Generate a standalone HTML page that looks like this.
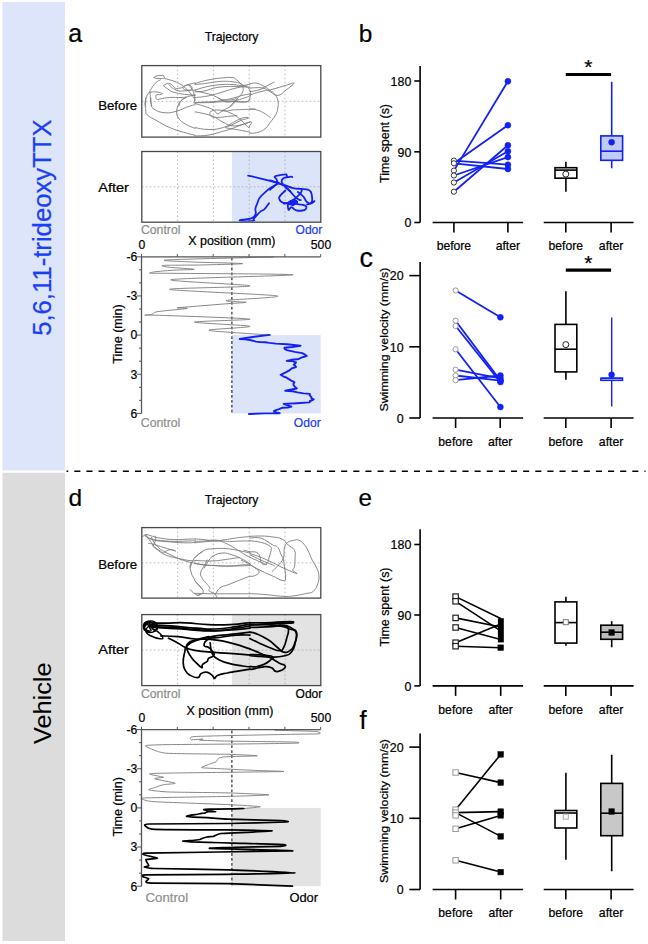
<!DOCTYPE html>
<html><head><meta charset="utf-8"><style>
html,body{margin:0;padding:0;background:#fff;width:648px;height:944px;overflow:hidden}
svg{display:block}
text{stroke-width:0.22px;paint-order:fill}
</style></head><body>
<svg width="648" height="944" viewBox="0 0 648 944" font-family="'Liberation Sans', sans-serif">
<defs><clipPath id="clipA1"><rect x="142.5" y="66.3" width="177.6" height="70.1"/></clipPath><clipPath id="clipA2"><rect x="142.5" y="152.2" width="177.6" height="69.29999999999998"/></clipPath><clipPath id="clipD1"><rect x="142.5" y="528.3000000000001" width="177.6" height="69.1"/></clipPath><clipPath id="clipD2"><rect x="142.5" y="615.3000000000001" width="177.6" height="69.6"/></clipPath></defs>
<rect width="648" height="944" fill="#fff"/>
<rect x="2.5" y="2" width="62.5" height="468.5" fill="#dde5fb" stroke="none" stroke-width="1.5"/>
<rect x="2.5" y="472.8" width="62.5" height="468.2" fill="#dcdcdc" stroke="none" stroke-width="1.5"/>
<text x="50.6" y="227.6" font-size="25.4" fill="#1a40f6" stroke="#1a40f6" text-anchor="middle" textLength="216.5" lengthAdjust="spacingAndGlyphs" transform="rotate(-90 50.6 227.6)">5,6,11-trideoxyTTX</text>
<text x="51.3" y="703.2" font-size="24.6" fill="#000" text-anchor="middle" textLength="81.5" lengthAdjust="spacingAndGlyphs" transform="rotate(-90 51.3 703.2)" stroke="none">Vehicle</text>
<line x1="66.5" y1="471.3" x2="645.5" y2="471.3" stroke="#000" stroke-width="1.5" stroke-dasharray="6.1 6.03" stroke-dashoffset="4.33"/>
<text x="68.2" y="42.3" font-size="25" fill="#000" stroke="#000">a</text>
<text x="358.8" y="42.3" font-size="24.4" fill="#000" stroke="#000">b</text>
<text x="359.6" y="267" font-size="27" fill="#000" stroke="#000">c</text>
<text x="68.5" y="506.3" font-size="24.5" fill="#000" stroke="#000">d</text>
<text x="358.6" y="506.2" font-size="24.2" fill="#000" stroke="#000">e</text>
<text x="359.6" y="728.7" font-size="25.5" fill="#000" stroke="#000">f</text>
<line x1="177.60000000000002" y1="65.6" x2="177.60000000000002" y2="137.1" stroke="#a8a8a8" stroke-width="0.8" stroke-dasharray="1.6 2.4"/>
<line x1="213.4" y1="65.6" x2="213.4" y2="137.1" stroke="#a8a8a8" stroke-width="0.8" stroke-dasharray="1.6 2.4"/>
<line x1="249.20000000000002" y1="65.6" x2="249.20000000000002" y2="137.1" stroke="#a8a8a8" stroke-width="0.8" stroke-dasharray="1.6 2.4"/>
<line x1="285.0" y1="65.6" x2="285.0" y2="137.1" stroke="#a8a8a8" stroke-width="0.8" stroke-dasharray="1.6 2.4"/>
<line x1="141.8" y1="101.35" x2="320.8" y2="101.35" stroke="#a8a8a8" stroke-width="0.8" stroke-dasharray="1.6 2.4"/>
<rect x="231.9" y="151.5" width="88.9" height="70.69999999999999" fill="#dce4fa" stroke="none" stroke-width="1.5"/>
<line x1="177.60000000000002" y1="151.5" x2="177.60000000000002" y2="222.2" stroke="#a8a8a8" stroke-width="0.8" stroke-dasharray="1.6 2.4"/>
<line x1="213.4" y1="151.5" x2="213.4" y2="222.2" stroke="#a8a8a8" stroke-width="0.8" stroke-dasharray="1.6 2.4"/>
<line x1="249.20000000000002" y1="151.5" x2="249.20000000000002" y2="222.2" stroke="#a8a8a8" stroke-width="0.8" stroke-dasharray="1.6 2.4"/>
<line x1="285.0" y1="151.5" x2="285.0" y2="222.2" stroke="#a8a8a8" stroke-width="0.8" stroke-dasharray="1.6 2.4"/>
<line x1="141.8" y1="186.85" x2="320.8" y2="186.85" stroke="#a8a8a8" stroke-width="0.8" stroke-dasharray="1.6 2.4"/>
<line x1="177.60000000000002" y1="527.6" x2="177.60000000000002" y2="598.1" stroke="#a8a8a8" stroke-width="0.8" stroke-dasharray="1.6 2.4"/>
<line x1="213.4" y1="527.6" x2="213.4" y2="598.1" stroke="#a8a8a8" stroke-width="0.8" stroke-dasharray="1.6 2.4"/>
<line x1="249.20000000000002" y1="527.6" x2="249.20000000000002" y2="598.1" stroke="#a8a8a8" stroke-width="0.8" stroke-dasharray="1.6 2.4"/>
<line x1="285.0" y1="527.6" x2="285.0" y2="598.1" stroke="#a8a8a8" stroke-width="0.8" stroke-dasharray="1.6 2.4"/>
<line x1="141.8" y1="562.85" x2="320.8" y2="562.85" stroke="#a8a8a8" stroke-width="0.8" stroke-dasharray="1.6 2.4"/>
<rect x="231.9" y="614.6" width="88.9" height="71.0" fill="#e3e3e3" stroke="none" stroke-width="1.5"/>
<line x1="177.60000000000002" y1="614.6" x2="177.60000000000002" y2="685.6" stroke="#a8a8a8" stroke-width="0.8" stroke-dasharray="1.6 2.4"/>
<line x1="213.4" y1="614.6" x2="213.4" y2="685.6" stroke="#a8a8a8" stroke-width="0.8" stroke-dasharray="1.6 2.4"/>
<line x1="249.20000000000002" y1="614.6" x2="249.20000000000002" y2="685.6" stroke="#a8a8a8" stroke-width="0.8" stroke-dasharray="1.6 2.4"/>
<line x1="285.0" y1="614.6" x2="285.0" y2="685.6" stroke="#a8a8a8" stroke-width="0.8" stroke-dasharray="1.6 2.4"/>
<line x1="141.8" y1="650.1" x2="320.8" y2="650.1" stroke="#a8a8a8" stroke-width="0.8" stroke-dasharray="1.6 2.4"/>
<rect x="231.9" y="335.1" width="88.79999999999998" height="78.29999999999995" fill="#dce4fa" stroke="none" stroke-width="1.5"/>
<line x1="231.9" y1="257.8" x2="231.9" y2="413.4" stroke="#111" stroke-width="1.05" stroke-dasharray="2.8 2.1"/>
<rect x="231.9" y="807.9000000000001" width="88.79999999999998" height="78.29999999999995" fill="#e3e3e3" stroke="none" stroke-width="1.5"/>
<line x1="231.9" y1="730.6" x2="231.9" y2="886.2" stroke="#111" stroke-width="1.05" stroke-dasharray="2.8 2.1"/>
<g clip-path="url(#clipA1)">
<path d="M154.0,77.6 C154.5,77.2 153.9,76.7 155.9,76.2 C157.8,75.6 160.5,75.3 162.4,75.3 C164.2,75.3 163.3,75.5 163.8,76.2 C164.2,76.8 164.8,77.5 164.2,78.0 C163.7,78.6 163.2,78.4 161.4,78.5 C159.7,78.6 158.5,78.7 156.8,78.5 C155.1,78.3 154.7,77.8 154.0,77.6" fill="none" stroke="#7a7a7a" stroke-width="0.9" stroke-linejoin="round" stroke-linecap="round"/>
<path d="M164.2,78.0 C165.1,78.4 165.5,78.7 167.9,79.4 C170.3,80.2 171.4,80.1 174.4,81.3 C177.4,82.5 178.5,83.1 180.9,84.5 C183.3,85.9 182.4,85.4 184.6,87.3 C186.8,89.2 187.8,90.0 190.1,92.9 C192.5,95.7 193.6,97.7 194.8,99.3 C196.0,101.0 195.1,99.8 195.2,100.0" fill="none" stroke="#7a7a7a" stroke-width="0.9" stroke-linejoin="round" stroke-linecap="round"/>
<path d="M160.5,79.9 C159.4,80.5 157.8,80.9 155.9,82.7 C153.9,84.4 153.7,85.1 152.2,87.3 C150.7,89.5 150.7,89.8 149.4,91.9 C148.1,94.1 147.6,94.0 146.6,96.6 C145.7,99.1 145.5,100.8 145.2,103.0 C145.0,105.2 145.6,105.3 145.7,106.0" fill="none" stroke="#7a7a7a" stroke-width="0.9" stroke-linejoin="round" stroke-linecap="round"/>
<path d="M149.4,92.9 C150.1,92.6 150.7,92.1 152.2,91.9 C153.7,91.7 153.9,91.7 155.9,91.9 C157.8,92.1 159.0,92.4 160.5,92.9 C162.0,93.3 162.6,93.3 162.4,93.8 C162.2,94.2 160.9,94.5 159.6,94.7 C158.3,94.9 157.7,94.3 156.8,94.7 C156.0,95.1 155.9,95.5 155.9,96.6 C155.9,97.6 155.7,98.8 156.8,99.3 C157.9,99.9 157.5,99.3 160.5,98.9 C163.5,98.4 165.0,97.8 169.8,97.5 C174.5,97.2 177.0,97.6 180.9,97.5 C184.8,97.4 185.1,97.1 186.4,97.0" fill="none" stroke="#7a7a7a" stroke-width="0.9" stroke-linejoin="round" stroke-linecap="round"/>
<path d="M163.3,85.9 C164.2,85.4 165.5,84.1 167.0,83.6 C168.5,83.1 168.5,83.2 169.8,83.6 C171.1,84.0 171.3,84.4 172.6,85.4 C173.9,86.5 173.8,87.6 175.3,88.2 C176.8,88.9 177.3,88.4 179.0,88.2 C180.8,88.0 181.0,88.1 182.7,87.3 C184.5,86.5 184.7,85.7 186.4,85.0 C188.2,84.2 188.4,84.5 190.1,84.1 C191.9,83.6 192.7,83.4 193.9,83.1 C195.0,82.9 194.9,82.9 195.2,82.9" fill="none" stroke="#7a7a7a" stroke-width="0.9" stroke-linejoin="round" stroke-linecap="round"/>
<path d="M164.2,86.4 C165.1,87.0 166.2,88.0 167.9,89.1 C169.7,90.3 169.7,90.6 171.6,91.5 C173.6,92.3 174.1,92.3 176.3,92.9 C178.4,93.4 178.1,93.3 180.9,93.8 C183.7,94.2 184.9,94.4 188.3,94.7 C191.6,95.0 193.6,95.1 195.2,95.2" fill="none" stroke="#7a7a7a" stroke-width="0.9" stroke-linejoin="round" stroke-linecap="round"/>
<path d="M168.9,84.5 C169.5,85.2 170.3,86.2 171.6,87.3 C172.9,88.4 172.7,88.3 174.4,89.1 C176.1,90.0 177.1,90.6 179.0,91.0 C181.0,91.4 180.6,91.1 182.7,91.0 C184.9,90.9 185.7,90.8 188.3,90.5 C190.9,90.3 192.2,90.2 193.9,90.1 C195.5,89.9 194.9,90.0 195.2,89.9" fill="none" stroke="#7a7a7a" stroke-width="0.9" stroke-linejoin="round" stroke-linecap="round"/>
<path d="M182.7,87.3 C183.2,87.0 183.1,86.4 184.6,85.9 C186.1,85.4 187.5,84.7 189.2,85.0 C191.0,85.3 191.6,86.2 192.0,87.3 C192.4,88.4 192.2,89.0 191.1,89.6 C190.0,90.3 189.1,90.2 187.4,90.1 C185.6,90.0 184.7,89.8 183.7,89.1 C182.6,88.5 183.0,87.7 182.7,87.3" fill="none" stroke="#7a7a7a" stroke-width="0.9" stroke-linejoin="round" stroke-linecap="round"/>
<path d="M150.3,91.9 C150.3,93.0 150.1,93.3 150.3,96.6 C150.5,99.8 151.0,103.8 151.3,106.0" fill="none" stroke="#7a7a7a" stroke-width="0.9" stroke-linejoin="round" stroke-linecap="round"/>
<path d="M179.0,106.0 C179.5,104.9 179.4,103.2 180.9,101.2 C182.4,99.2 182.9,98.8 185.5,97.5 C188.1,96.2 189.7,96.2 192.0,95.6 C194.3,95.1 194.5,95.2 195.2,95.1" fill="none" stroke="#7a7a7a" stroke-width="0.9" stroke-linejoin="round" stroke-linecap="round"/>
<path d="M188.3,84.5 C189.2,85.6 190.7,87.0 192.0,89.1 C193.3,91.3 193.2,91.6 193.9,93.8 C194.5,95.9 194.8,96.2 194.8,98.4 C194.8,100.6 194.1,102.0 193.9,103.0" fill="none" stroke="#7a7a7a" stroke-width="0.9" stroke-linejoin="round" stroke-linecap="round"/>
<path d="M195.0,83.6 C197.2,82.9 199.9,81.9 204.3,80.8 C208.6,79.7 209.2,79.7 213.5,79.0 C217.8,78.3 218.5,78.2 222.8,77.9 C227.1,77.5 228.8,77.1 232.0,77.6 C235.3,78.0 234.5,78.3 236.7,79.9 C238.8,81.5 239.8,82.6 241.3,84.5 C242.8,86.5 242.9,86.3 243.1,88.2 C243.4,90.2 243.3,90.7 242.2,92.9 C241.1,95.0 240.5,95.3 238.5,97.5 C236.6,99.6 235.8,100.1 233.9,102.1 C231.9,104.1 231.0,105.1 230.2,106.0" fill="none" stroke="#7a7a7a" stroke-width="0.9" stroke-linejoin="round" stroke-linecap="round"/>
<path d="M195.0,84.5 C197.2,84.3 199.9,84.1 204.3,83.6 C208.6,83.1 209.2,82.7 213.5,82.2 C217.8,81.7 218.5,81.4 222.8,81.3 C227.1,81.2 228.1,81.3 232.0,81.7 C235.9,82.2 236.6,82.2 239.4,83.1 C242.3,84.1 241.9,84.7 244.1,85.9 C246.2,87.1 247.2,86.4 248.7,88.2 C250.2,90.1 250.3,91.4 250.6,93.8 C250.8,96.2 250.3,96.7 249.6,98.4 C249.0,100.1 249.3,100.3 247.8,101.2 C246.3,102.0 246.8,102.1 243.1,102.1 C239.5,102.1 234.6,101.4 232.0,101.2" fill="none" stroke="#7a7a7a" stroke-width="0.9" stroke-linejoin="round" stroke-linecap="round"/>
<path d="M195.0,90.1 C197.2,89.4 199.9,88.4 204.3,87.3 C208.6,86.2 209.2,86.1 213.5,85.4 C217.8,84.8 218.5,84.7 222.8,84.5 C227.1,84.3 227.7,84.3 232.0,84.5 C236.4,84.7 237.1,85.5 241.3,85.4 C245.5,85.4 248.0,84.5 250.0,84.3" fill="none" stroke="#7a7a7a" stroke-width="0.9" stroke-linejoin="round" stroke-linecap="round"/>
<path d="M195.0,91.9 C197.2,91.7 199.9,91.9 204.3,91.0 C208.6,90.1 209.2,89.2 213.5,88.2 C217.8,87.2 218.0,87.3 222.8,86.8 C227.5,86.4 229.1,86.4 233.9,86.4 C238.6,86.4 239.4,86.6 243.1,86.8 C246.9,87.1 248.4,87.2 250.0,87.4" fill="none" stroke="#7a7a7a" stroke-width="0.9" stroke-linejoin="round" stroke-linecap="round"/>
<path d="M195.0,97.5 C197.2,97.3 199.9,97.2 204.3,96.6 C208.6,95.9 209.2,95.8 213.5,94.7 C217.8,93.6 218.5,93.2 222.8,91.9 C227.1,90.6 227.7,90.3 232.0,89.1 C236.4,88.0 237.8,87.6 241.3,86.8 C244.8,86.1 245.6,86.1 246.9,85.9" fill="none" stroke="#7a7a7a" stroke-width="0.9" stroke-linejoin="round" stroke-linecap="round"/>
<path d="M195.0,91.0 C197.2,91.4 199.9,91.8 204.3,92.9 C208.6,93.9 209.2,93.9 213.5,95.6 C217.8,97.4 219.5,98.7 222.8,100.3 C226.0,101.8 224.2,102.1 227.4,102.1 C230.6,102.1 232.3,101.3 236.7,100.3 C241.0,99.2 242.8,98.5 245.9,97.5 C249.0,96.4 249.0,96.2 250.0,95.8" fill="none" stroke="#7a7a7a" stroke-width="0.9" stroke-linejoin="round" stroke-linecap="round"/>
<path d="M195.0,103.0 C196.7,102.8 198.1,102.4 202.4,102.1 C206.7,101.8 208.8,102.1 213.5,101.6 C218.3,101.2 218.5,101.0 222.8,100.3 C227.1,99.5 227.7,99.5 232.0,98.4 C236.4,97.3 237.1,96.7 241.3,95.6 C245.5,94.6 248.0,94.3 250.0,93.9" fill="none" stroke="#7a7a7a" stroke-width="0.9" stroke-linejoin="round" stroke-linecap="round"/>
<path d="M145.7,98.0 C145.6,99.3 145.2,100.7 145.2,103.6 C145.2,106.4 145.3,107.4 145.7,110.0 C146.1,112.6 144.7,112.3 147.1,114.7 C149.5,117.0 150.6,117.2 155.9,120.2 C161.2,123.2 163.3,124.8 169.8,127.6 C176.3,130.4 177.7,130.5 183.7,132.3 C189.6,134.1 192.5,134.6 195.2,135.3" fill="none" stroke="#7a7a7a" stroke-width="0.9" stroke-linejoin="round" stroke-linecap="round"/>
<path d="M150.8,98.0 C150.9,99.3 150.5,101.0 151.3,103.6 C152.0,106.1 150.8,107.0 154.0,109.1 C157.3,111.3 159.7,112.4 165.1,112.8 C170.5,113.2 172.2,112.3 177.2,111.0 C182.2,109.7 182.6,108.7 186.4,107.3 C190.3,105.9 191.8,105.5 193.9,104.9 C195.9,104.4 194.9,104.8 195.2,104.8" fill="none" stroke="#7a7a7a" stroke-width="0.9" stroke-linejoin="round" stroke-linecap="round"/>
<path d="M185.5,98.0 C184.4,98.6 182.6,99.0 180.9,100.8 C179.2,102.5 179.1,102.8 178.1,105.4 C177.1,108.0 176.7,109.1 176.7,111.9 C176.7,114.7 176.5,114.9 178.1,117.4 C179.7,120.0 180.2,120.6 183.7,123.0 C187.1,125.4 190.2,126.4 192.9,127.6 C195.6,128.8 194.7,128.1 195.2,128.2" fill="none" stroke="#7a7a7a" stroke-width="0.9" stroke-linejoin="round" stroke-linecap="round"/>
<path d="M195.0,103.6 C197.2,104.2 199.9,104.8 204.3,106.3 C208.6,107.8 210.5,108.3 213.5,110.0 C216.5,111.8 215.5,113.3 217.2,113.7 C219.0,114.2 219.0,113.0 220.9,111.9 C222.9,110.8 223.0,110.6 225.6,109.1 C228.1,107.6 229.4,107.6 232.0,105.4 C234.6,103.2 235.4,101.6 236.7,99.9 C238.0,98.1 237.4,98.4 237.6,98.0" fill="none" stroke="#7a7a7a" stroke-width="0.9" stroke-linejoin="round" stroke-linecap="round"/>
<path d="M195.0,102.6 C198.2,102.6 202.4,102.8 208.9,102.6 C215.4,102.4 216.3,101.9 222.8,101.7 C229.3,101.5 231.0,101.7 236.7,101.7 C242.3,101.7 243.8,102.1 246.9,101.7 C249.9,101.3 248.9,100.5 249.6,99.9 C250.4,99.2 249.9,99.3 250.0,99.1" fill="none" stroke="#7a7a7a" stroke-width="0.9" stroke-linejoin="round" stroke-linecap="round"/>
<path d="M218.1,98.0 C219.2,98.4 219.5,99.4 222.8,99.9 C226.0,100.3 228.8,100.3 232.0,99.9 C235.3,99.4 235.6,98.4 236.7,98.0" fill="none" stroke="#7a7a7a" stroke-width="0.9" stroke-linejoin="round" stroke-linecap="round"/>
<path d="M255.0,109.1 C251.8,109.2 246.7,109.4 241.3,109.6 C235.9,109.8 235.7,109.7 232.0,110.0 C228.4,110.4 228.8,111.0 225.6,111.0 C222.3,111.0 221.4,110.0 218.1,110.0 C214.9,110.0 213.6,110.1 211.7,111.0 C209.7,111.8 209.8,112.4 209.8,113.7 C209.8,115.0 209.7,115.7 211.7,116.5 C213.6,117.4 214.5,117.4 218.1,117.4 C221.8,117.4 223.1,117.0 227.4,116.5 C231.7,116.1 234.5,115.8 236.7,115.6" fill="none" stroke="#7a7a7a" stroke-width="0.9" stroke-linejoin="round" stroke-linecap="round"/>
<path d="M195.0,111.9 C197.2,112.3 199.9,112.7 204.3,113.7 C208.6,114.8 209.2,114.6 213.5,116.5 C217.8,118.5 218.5,119.9 222.8,122.1 C227.1,124.2 227.7,125.1 232.0,125.8 C236.4,126.4 237.8,125.5 241.3,124.9 C244.8,124.2 244.5,123.6 246.9,123.0 C249.2,122.4 250.8,121.4 251.5,122.1 C252.1,122.7 250.3,124.5 249.6,125.8 C249.0,127.1 250.2,128.5 248.7,127.6 C247.2,126.8 246.0,124.7 243.1,122.1 C240.3,119.5 239.7,118.7 236.7,116.5 C233.6,114.4 233.4,114.3 230.2,112.8 C226.9,111.3 224.5,110.7 222.8,110.0" fill="none" stroke="#7a7a7a" stroke-width="0.9" stroke-linejoin="round" stroke-linecap="round"/>
<path d="M195.0,127.6 C198.2,128.1 202.4,129.5 208.9,129.5 C215.4,129.5 216.9,129.4 222.8,127.6 C228.6,125.9 229.6,124.2 233.9,122.1 C238.2,119.9 238.3,119.5 241.3,118.4 C244.3,117.3 245.3,117.4 246.9,117.4 C248.4,117.4 249.1,117.7 247.8,118.4 C246.5,119.0 244.5,118.9 241.3,120.2 C238.1,121.5 237.1,122.4 233.9,123.9 C230.6,125.4 229.4,125.8 227.4,126.7 C225.5,127.6 224.9,127.2 225.6,127.6 C226.2,128.1 226.5,127.9 230.2,128.6 C233.9,129.2 236.7,129.6 241.3,130.4 C245.9,131.3 248.0,131.8 250.0,132.2" fill="none" stroke="#7a7a7a" stroke-width="0.9" stroke-linejoin="round" stroke-linecap="round"/>
<path d="M195.0,136.0 C198.2,135.7 202.4,136.1 208.9,135.0 C215.4,134.0 217.4,132.8 222.8,131.3 C228.2,129.8 227.7,130.1 232.0,128.6 C236.4,127.0 237.1,126.4 241.3,124.9 C245.5,123.3 248.0,122.5 250.0,121.8" fill="none" stroke="#7a7a7a" stroke-width="0.9" stroke-linejoin="round" stroke-linecap="round"/>
<path d="M250.0,83.8 C251.6,83.6 253.3,82.6 256.7,83.2 C260.0,83.9 261.3,84.9 264.4,86.6 C267.6,88.2 267.7,88.8 270.0,90.4 C272.3,92.1 272.6,91.4 274.4,93.8 C276.3,96.1 277.0,97.1 277.8,100.4 C278.6,103.8 278.3,104.9 277.8,108.2 C277.3,111.6 277.4,111.5 275.6,114.9 C273.7,118.3 272.6,119.3 270.0,122.7 C267.4,126.0 267.6,127.0 264.4,129.3 C261.3,131.7 260.0,131.8 256.7,132.7 C253.3,133.6 251.6,133.1 250.0,133.2" fill="none" stroke="#7a7a7a" stroke-width="0.9" stroke-linejoin="round" stroke-linecap="round"/>
<path d="M250.0,88.2 C251.3,88.1 252.4,87.7 255.6,87.7 C258.7,87.7 260.0,87.3 263.3,88.2 C266.7,89.1 266.6,89.9 270.0,91.6 C273.4,93.2 274.1,95.7 277.8,95.4 C281.4,95.2 281.8,93.3 285.6,90.4 C289.3,87.6 293.9,84.4 293.9,83.2 C293.9,82.1 290.6,84.0 285.6,85.4 C280.5,86.9 277.9,87.9 272.2,89.3 C266.5,90.8 266.3,90.3 261.1,91.6 C255.9,92.9 252.6,94.1 250.0,94.9" fill="none" stroke="#7a7a7a" stroke-width="0.9" stroke-linejoin="round" stroke-linecap="round"/>
<path d="M250.0,91.6 C252.1,91.2 255.0,91.2 258.9,89.9 C262.8,88.6 263.2,87.8 266.7,86.0 C270.2,84.2 272.2,83.0 273.9,82.1" fill="none" stroke="#7a7a7a" stroke-width="0.9" stroke-linejoin="round" stroke-linecap="round"/>
<path d="M250.0,108.8 C251.6,109.0 253.6,109.0 256.7,109.9 C259.8,110.8 260.1,110.9 263.3,112.7 C266.6,114.5 268.9,116.5 270.6,117.7" fill="none" stroke="#7a7a7a" stroke-width="0.9" stroke-linejoin="round" stroke-linecap="round"/>
</g>
<g clip-path="url(#clipA2)">
<path d="M248.1,175.6 C251.4,176.3 255.0,177.1 262.0,178.9 C269.0,180.6 273.9,181.9 278.2,183.1 C282.5,184.3 280.0,183.7 280.5,183.9" fill="none" stroke="#1222f2" stroke-width="1.8" stroke-linejoin="round" stroke-linecap="round"/>
<path d="M278.2,183.5 C276.8,184.3 274.9,185.1 272.0,187.0 C269.2,188.9 268.7,189.1 265.9,191.6 C263.0,194.1 261.7,195.1 259.7,197.8 C257.7,200.5 258.4,200.7 257.4,203.2 C256.4,205.7 255.8,206.2 255.4,208.6 C255.1,210.9 256.1,211.4 255.8,213.2 C255.6,215.0 255.6,215.0 254.3,216.3 C253.0,217.6 252.6,217.9 250.4,218.6 C248.3,219.3 247.6,219.0 245.0,219.4 C242.5,219.7 239.8,219.7 239.6,220.2 C239.4,220.6 241.0,221.1 244.3,221.3 C247.5,221.5 251.4,221.4 253.5,220.9 C255.7,220.5 252.8,220.6 253.5,219.4 C254.2,218.1 254.8,217.5 256.6,215.5 C258.4,213.5 259.4,212.3 261.2,210.9 C263.0,209.5 262.5,211.2 264.3,209.4 C266.1,207.6 267.9,204.6 269.0,203.2" fill="none" stroke="#1222f2" stroke-width="1.8" stroke-linejoin="round" stroke-linecap="round"/>
<path d="M292.4,177.0 C292.0,176.9 291.9,176.6 290.8,176.6 C289.8,176.6 288.7,177.3 287.7,177.0 C286.8,176.6 287.1,175.7 286.6,175.0 C286.0,174.4 287.3,174.2 285.4,174.3 C283.5,174.3 281.0,174.9 278.5,175.4 C276.0,176.0 275.1,175.7 274.6,176.6 C274.2,177.5 275.8,177.8 276.6,179.3 C277.3,180.7 277.4,181.9 277.7,182.7" fill="none" stroke="#1222f2" stroke-width="1.8" stroke-linejoin="round" stroke-linecap="round"/>
<path d="M287.7,177.0 C287.4,177.0 287.3,177.0 286.2,177.3 C285.1,177.7 284.2,177.6 283.1,178.5 C282.0,179.4 281.6,179.9 281.6,181.2 C281.6,182.6 282.2,183.3 283.1,184.3 C284.0,185.3 283.1,184.5 285.4,185.4 C287.8,186.3 289.5,187.3 293.1,188.1 C296.7,189.0 297.4,188.6 300.9,188.9 C304.3,189.3 305.5,189.0 307.8,189.7 C310.1,190.4 309.9,190.2 310.9,192.0 C311.9,193.8 311.7,195.2 312.1,197.4 C312.4,199.6 311.9,200.4 312.4,201.3 C313.0,202.2 314.9,200.7 314.4,201.3 C313.8,201.8 312.0,203.6 310.1,203.6 C308.2,203.6 307.7,202.7 306.3,201.3 C304.8,199.8 305.2,199.0 304.0,197.4 C302.7,195.8 302.3,195.6 300.9,194.3 C299.4,193.1 298.5,192.5 297.8,192.0" fill="none" stroke="#1222f2" stroke-width="1.8" stroke-linejoin="round" stroke-linecap="round"/>
<path d="M270.0,180.4 C271.8,181.0 275.4,181.9 277.7,182.7 C280.1,183.6 278.2,183.0 280.0,183.9 C281.8,184.8 283.1,184.9 285.4,186.6 C287.8,188.3 287.7,188.7 290.1,191.2 C292.4,193.8 293.3,195.4 295.5,197.4 C297.6,199.4 298.1,199.1 299.3,199.7 C300.6,200.4 300.5,200.0 300.9,200.1" fill="none" stroke="#1222f2" stroke-width="1.8" stroke-linejoin="round" stroke-linecap="round"/>
<path d="M270.0,189.7 C271.1,188.8 272.8,187.3 274.6,185.8 C276.4,184.4 277.0,184.1 277.7,183.5" fill="none" stroke="#1222f2" stroke-width="1.8" stroke-linejoin="round" stroke-linecap="round"/>
<path d="M301.6,188.9 C301.5,189.8 302.3,190.6 300.9,192.8 C299.4,194.9 298.0,196.0 295.5,198.2 C292.9,200.3 292.4,200.9 290.1,202.0 C287.7,203.2 287.4,203.2 285.4,203.2 C283.5,203.2 283.0,203.0 281.6,202.0 C280.1,201.0 279.6,200.4 279.3,199.0 C278.9,197.5 278.6,197.8 280.0,195.9 C281.5,193.9 284.2,191.7 285.4,190.5" fill="none" stroke="#1222f2" stroke-width="1.8" stroke-linejoin="round" stroke-linecap="round"/>
<path d="M283.9,203.6 C285.1,203.4 286.8,203.2 289.3,202.8 C291.8,202.4 292.9,202.0 294.7,202.0 C296.5,202.0 297.4,202.3 297.0,202.8 C296.6,203.3 295.3,204.2 293.1,204.4 C291.0,204.5 287.9,204.5 287.7,203.6 C287.6,202.7 290.4,201.0 292.4,200.5 C294.4,200.0 296.1,200.2 296.2,201.3 C296.4,202.3 294.6,204.6 293.1,205.1 C291.7,205.7 290.8,203.9 290.1,203.6" fill="none" stroke="#1222f2" stroke-width="1.8" stroke-linejoin="round" stroke-linecap="round"/>
<path d="M295.5,203.6 C296.4,203.8 297.3,204.0 299.3,204.4 C301.3,204.7 302.3,204.6 304.0,205.1 C305.6,205.7 305.9,205.7 306.3,206.7 C306.6,207.7 306.4,208.5 305.5,209.4 C304.6,210.3 304.4,210.3 302.4,210.5 C300.4,210.8 299.0,210.9 297.0,210.5 C295.0,210.2 295.2,209.8 293.9,209.0 C292.7,208.2 292.5,207.2 291.6,207.1 C290.7,206.9 290.8,207.6 290.1,208.2 C289.3,208.8 289.1,210.5 288.5,209.8 C288.0,209.0 287.9,206.2 287.7,205.1" fill="none" stroke="#1222f2" stroke-width="1.8" stroke-linejoin="round" stroke-linecap="round"/>
<path d="M307.0,204.4 C307.8,204.2 309.0,204.3 310.1,203.6 C311.3,202.9 311.6,201.8 312.1,201.3" fill="none" stroke="#1222f2" stroke-width="1.8" stroke-linejoin="round" stroke-linecap="round"/>
<path d="M285.4,187.4 L290.1,191.2" fill="none" stroke="#1222f2" stroke-width="1.8" stroke-linejoin="round" stroke-linecap="round"/>
<ellipse cx="293.5" cy="202" rx="4.5" ry="2.6" fill="#1222f2"/>
</g>
<path d="M273.3,257.0 C258.4,257.4 178.9,259.2 167.2,259.9 C155.5,260.6 178.9,261.4 189.4,261.9 C199.9,262.4 240.4,263.2 242.5,263.6 C244.6,264.0 215.3,264.6 204.2,264.9 C193.1,265.2 168.3,265.1 163.5,265.4 C158.7,265.7 165.3,266.8 169.6,267.3 C173.9,267.8 194.0,268.9 194.3,269.3 C194.7,269.7 177.6,269.9 172.1,270.3 C166.6,270.7 157.9,271.4 154.8,271.8 C151.7,272.2 148.2,273.1 149.9,273.3 C151.6,273.5 147.2,273.1 167.2,273.3 C187.2,273.5 292.6,273.9 293.1,274.8 C293.6,275.7 176.9,278.1 170.9,279.7 C164.9,281.3 250.1,284.5 249.9,285.9 C249.7,287.3 165.8,288.0 169.6,289.4 C173.4,290.8 269.0,294.4 277.0,295.9 C285.0,297.4 230.7,299.5 226.4,300.4 C222.1,301.3 245.8,301.9 246.2,302.3 C246.5,302.7 236.9,303.0 228.9,303.6 C220.9,304.2 196.7,306.2 189.4,306.8 C182.1,307.4 177.3,307.6 177.0,307.8 C176.7,308.0 189.7,308.0 186.9,308.5 C184.1,309.0 162.1,310.9 157.3,311.7 C152.5,312.5 154.0,313.7 152.3,314.2 C150.6,314.7 143.5,315.0 144.9,315.2 C146.3,315.4 147.5,314.9 162.2,315.4 C176.9,315.9 245.4,318.2 249.9,319.1 C254.4,320.0 194.3,321.1 194.3,322.1 C194.3,323.1 247.8,325.2 249.9,326.3 C252.0,327.4 211.5,329.1 209.1,330.0 C206.7,330.9 224.1,331.8 232.6,332.5 C241.1,333.2 264.4,334.6 269.6,335.0" fill="none" stroke="#7a7a7a" stroke-width="0.9" stroke-linejoin="round" stroke-linecap="round"/>
<polyline points="269.8,334.9 254.3,336.7 239.7,339.0 245.1,339.2 249.7,340.0 252.9,340.7 255.9,341.6 259.4,342.0 265.1,342.3 269.3,342.9 275.9,343.6 287.1,344.3 300.6,345.7 292.3,347.0 284.4,347.7 284.6,348.7 286.7,350.1 294.8,351.9 302.2,353.1 304.7,354.4 306.8,355.9 304.9,356.5 300.6,357.8 300.0,358.4 297.5,359.3 291.2,359.8 286.7,360.9 289.3,361.1 292.9,360.9 293.6,361.7 296.0,362.4 295.2,363.5 293.7,364.7 295.0,365.5 296.0,367.0 291.8,368.3 289.8,370.1 285.7,372.4 280.6,374.8 283.2,376.3 286.7,377.7 288.9,379.1 291.4,380.8 293.7,381.7 294.4,382.3 293.4,383.9 293.7,385.4 295.3,387.2 296.8,388.5 291.6,389.5 285.2,390.8 292.6,391.3 297.5,392.4 303.5,393.4 309.9,393.9 309.7,395.4 311.4,397.0 311.4,398.3 313.7,399.3 312.5,400.2 309.9,400.9 310.5,401.5 309.1,402.4 296.9,403.2 283.6,403.9 287.7,405.3 291.4,406.7 287.6,407.6 282.1,407.8 278.9,409.1 275.9,410.1 274.0,411.1 274.4,411.7 277.5,412.8 279.8,413.2 265.2,413.4 248.9,414.0" fill="none" stroke="#1222f2" stroke-width="1.9" stroke-linejoin="round" stroke-linecap="round"/>
<g clip-path="url(#clipD1)">
<path d="M142.0,537.3 C142.9,536.7 143.5,535.0 145.7,534.7 C147.9,534.3 147.8,535.0 151.3,535.9 C154.7,536.7 155.1,537.3 160.5,538.2 C165.9,539.0 167.9,539.4 174.4,539.6 C180.9,539.8 183.4,539.3 188.3,539.1 C193.2,538.9 193.6,538.9 195.2,538.9" fill="none" stroke="#7a7a7a" stroke-width="0.9" stroke-linejoin="round" stroke-linecap="round"/>
<path d="M145.7,534.7 C146.1,535.3 146.3,536.2 147.6,537.3 C148.9,538.3 148.2,538.4 151.3,539.1 C154.3,539.9 155.1,540.0 160.5,540.5 C165.9,541.0 167.9,541.3 174.4,541.4 C180.9,541.5 183.4,541.1 188.3,541.0 C193.2,540.8 193.6,540.8 195.2,540.7" fill="none" stroke="#7a7a7a" stroke-width="0.9" stroke-linejoin="round" stroke-linecap="round"/>
<path d="M144.8,535.9 C145.9,536.4 146.8,537.1 149.4,538.2 C152.0,539.3 151.1,539.6 155.9,540.5 C160.6,541.4 163.3,541.3 169.8,541.9 C176.3,542.4 177.7,542.7 183.7,542.8 C189.6,543.0 192.5,542.6 195.2,542.5" fill="none" stroke="#7a7a7a" stroke-width="0.9" stroke-linejoin="round" stroke-linecap="round"/>
<path d="M148.5,543.3 C149.6,543.5 150.3,543.4 153.1,544.2 C155.9,545.0 156.6,545.3 160.5,546.5 C164.4,547.7 166.5,548.3 169.8,549.3 C173.0,550.3 173.1,550.3 174.4,550.7 C175.7,551.1 175.8,551.4 175.3,551.1 C174.9,550.9 174.3,550.0 172.6,549.8 C170.8,549.5 169.9,549.6 167.9,550.2 C166.0,550.9 165.5,551.9 164.2,552.5 C162.9,553.2 163.2,553.3 162.4,553.0 C161.5,552.7 162.0,552.2 160.5,551.1 C159.0,550.1 157.4,549.2 155.9,548.4 C154.4,547.5 154.7,548.1 154.0,547.4 C153.4,546.8 152.9,546.9 153.1,545.6 C153.3,544.3 154.3,543.8 155.0,541.9 C155.6,539.9 155.9,538.6 155.9,537.3 C155.9,536.0 155.2,536.5 155.0,536.3" fill="none" stroke="#7a7a7a" stroke-width="0.9" stroke-linejoin="round" stroke-linecap="round"/>
<path d="M151.3,537.3 C152.1,538.8 152.8,540.9 155.0,543.7 C157.1,546.5 158.1,547.4 160.5,549.3 C162.9,551.2 162.3,550.6 165.1,552.1 C168.0,553.6 168.9,554.0 172.6,555.8 C176.2,557.5 176.8,558.0 180.9,559.5 C185.0,561.0 186.8,561.4 190.1,562.3 C193.5,563.1 194.1,562.9 195.2,563.1" fill="none" stroke="#7a7a7a" stroke-width="0.9" stroke-linejoin="round" stroke-linecap="round"/>
<path d="M145.7,535.4 C146.8,536.7 148.4,538.4 150.3,541.0 C152.3,543.6 151.7,543.9 154.0,546.5 C156.4,549.1 157.3,549.9 160.5,552.1 C163.8,554.2 163.6,554.3 167.9,555.8 C172.2,557.3 174.3,557.5 179.0,558.6 C183.8,559.6 184.5,559.9 188.3,560.4 C192.1,560.9 193.6,560.8 195.2,560.9" fill="none" stroke="#7a7a7a" stroke-width="0.9" stroke-linejoin="round" stroke-linecap="round"/>
<path d="M202.0,552.1 C200.7,552.9 198.7,553.8 196.6,555.8 C194.5,557.7 194.2,558.2 192.9,560.4 C191.6,562.6 191.7,563.3 191.1,565.0 C190.4,566.8 190.4,567.3 190.1,568.0" fill="none" stroke="#7a7a7a" stroke-width="0.9" stroke-linejoin="round" stroke-linecap="round"/>
<path d="M192.0,561.9 C191.6,562.7 190.4,563.2 190.1,565.6 C189.9,567.9 190.2,569.0 191.1,572.0 C191.9,575.1 192.3,575.7 193.9,578.5 C195.4,581.3 195.7,581.7 197.6,584.1 C199.5,586.5 201.0,587.6 202.0,588.7" fill="none" stroke="#7a7a7a" stroke-width="0.9" stroke-linejoin="round" stroke-linecap="round"/>
<path d="M190.1,589.6 C190.6,590.1 190.7,590.4 192.0,591.5 C193.3,592.6 194.2,593.4 195.7,594.3 C197.2,595.1 197.0,595.4 198.5,595.2 C200.0,595.0 201.2,593.8 202.0,593.3" fill="none" stroke="#7a7a7a" stroke-width="0.9" stroke-linejoin="round" stroke-linecap="round"/>
<path d="M195.0,539.1 C197.2,539.2 199.9,539.1 204.3,539.6 C208.6,540.0 209.2,540.9 213.5,541.0 C217.8,541.1 218.5,540.6 222.8,540.0 C227.1,539.5 227.7,539.3 232.0,538.6 C236.4,538.0 237.1,537.7 241.3,537.3 C245.5,536.8 248.0,536.8 250.0,536.7" fill="none" stroke="#7a7a7a" stroke-width="0.9" stroke-linejoin="round" stroke-linecap="round"/>
<path d="M195.0,541.4 C197.2,541.3 199.9,541.3 204.3,541.0 C208.6,540.6 209.2,540.0 213.5,540.0 C217.8,540.0 218.5,540.6 222.8,541.0 C227.1,541.3 227.7,541.4 232.0,541.4 C236.4,541.4 237.1,541.1 241.3,541.0 C245.5,540.9 248.0,541.0 250.0,541.0" fill="none" stroke="#7a7a7a" stroke-width="0.9" stroke-linejoin="round" stroke-linecap="round"/>
<path d="M195.0,542.8 C197.2,542.6 198.9,542.3 204.3,541.9 C209.7,541.5 213.2,540.6 218.1,541.0 C223.1,541.3 222.3,542.0 225.6,543.3 C228.8,544.6 228.8,544.7 232.0,546.5 C235.3,548.4 236.0,549.0 239.4,551.1 C242.9,553.3 244.4,554.4 246.9,555.8 C249.3,557.2 249.3,556.9 250.0,557.2" fill="none" stroke="#7a7a7a" stroke-width="0.9" stroke-linejoin="round" stroke-linecap="round"/>
<path d="M195.0,557.6 C197.2,555.9 199.9,552.3 204.3,550.2 C208.6,548.2 209.2,549.3 213.5,548.8 C217.8,548.4 218.5,548.3 222.8,548.4 C227.1,548.5 227.7,548.6 232.0,549.3 C236.4,549.9 237.1,550.3 241.3,551.1 C245.5,552.0 248.0,552.5 250.0,552.9" fill="none" stroke="#7a7a7a" stroke-width="0.9" stroke-linejoin="round" stroke-linecap="round"/>
<path d="M204.3,568.0 C205.3,566.2 206.7,563.3 208.9,560.4 C211.0,557.6 210.3,557.5 213.5,555.8 C216.8,554.0 218.5,553.2 222.8,553.0 C227.1,552.8 227.7,553.6 232.0,554.9 C236.4,556.1 237.1,556.5 241.3,558.6 C245.5,560.6 248.0,562.6 250.0,563.8" fill="none" stroke="#7a7a7a" stroke-width="0.9" stroke-linejoin="round" stroke-linecap="round"/>
<path d="M195.0,560.4 C197.2,560.5 199.9,560.8 204.3,560.9 C208.6,561.0 209.2,561.1 213.5,560.9 C217.8,560.7 218.5,560.5 222.8,559.9 C227.1,559.4 228.1,559.1 232.0,558.6 C235.9,558.0 237.7,557.8 239.4,557.6" fill="none" stroke="#7a7a7a" stroke-width="0.9" stroke-linejoin="round" stroke-linecap="round"/>
<path d="M195.0,563.2 C197.2,563.6 199.9,564.5 204.3,565.0 C208.6,565.6 209.2,565.3 213.5,565.5 C217.8,565.7 218.5,565.9 222.8,566.0 C227.1,566.1 227.7,566.2 232.0,566.0 C236.4,565.7 237.1,565.4 241.3,565.0 C245.5,564.7 248.0,564.7 250.0,564.6" fill="none" stroke="#7a7a7a" stroke-width="0.9" stroke-linejoin="round" stroke-linecap="round"/>
<path d="M244.1,550.2 L250.0,551.9" fill="none" stroke="#7a7a7a" stroke-width="0.9" stroke-linejoin="round" stroke-linecap="round"/>
<path d="M207.0,560.0 C206.4,561.3 205.8,562.5 204.3,565.6 C202.7,568.6 201.0,569.9 200.6,573.0 C200.1,576.0 201.1,576.1 202.4,578.5 C203.7,580.9 204.4,581.0 206.1,583.1 C207.8,585.3 209.2,586.0 209.8,587.8 C210.5,589.5 208.0,589.3 208.9,590.6 C209.8,591.9 211.8,592.0 213.5,593.3 C215.2,594.6 215.6,594.6 216.3,596.1 C216.9,597.7 216.3,599.1 216.3,600.0" fill="none" stroke="#7a7a7a" stroke-width="0.9" stroke-linejoin="round" stroke-linecap="round"/>
<path d="M195.0,581.3 C196.1,582.4 197.7,583.5 199.6,585.9 C201.6,588.3 203.1,589.5 203.3,591.5 C203.5,593.4 202.1,593.4 200.6,594.3 C199.0,595.1 197.7,595.0 196.9,595.2" fill="none" stroke="#7a7a7a" stroke-width="0.9" stroke-linejoin="round" stroke-linecap="round"/>
<path d="M195.0,563.7 C199.3,564.1 204.9,565.0 213.5,565.6 C222.2,566.1 223.5,566.0 232.0,566.0 C240.5,566.0 245.8,565.7 250.0,565.6" fill="none" stroke="#7a7a7a" stroke-width="0.9" stroke-linejoin="round" stroke-linecap="round"/>
<path d="M215.4,594.3 C216.5,592.7 217.2,589.9 220.0,587.8 C222.8,585.6 223.5,586.5 227.4,585.0 C231.3,583.5 232.3,583.0 236.7,581.3 C241.0,579.6 242.8,578.7 245.9,577.6 C249.0,576.4 249.0,576.6 250.0,576.3" fill="none" stroke="#7a7a7a" stroke-width="0.9" stroke-linejoin="round" stroke-linecap="round"/>
<path d="M195.0,593.3 C199.3,593.4 204.9,593.7 213.5,593.8 C222.2,593.9 223.5,593.8 232.0,593.8 C240.5,593.8 245.8,593.8 250.0,593.8" fill="none" stroke="#7a7a7a" stroke-width="0.9" stroke-linejoin="round" stroke-linecap="round"/>
<path d="M241.3,560.0 C242.6,560.6 244.8,561.9 246.9,562.8 C248.9,563.7 249.3,563.6 250.0,563.9" fill="none" stroke="#7a7a7a" stroke-width="0.9" stroke-linejoin="round" stroke-linecap="round"/>
<path d="M250.0,536.3 C252.6,536.3 255.9,535.9 261.1,536.0 C266.3,536.1 267.3,536.2 272.2,536.9 C277.1,537.6 278.6,537.3 282.2,539.1 C285.9,540.9 284.9,542.1 287.8,544.7 C290.6,547.3 292.8,546.9 294.4,550.2 C296.1,553.6 295.0,555.2 295.0,559.1 C295.0,563.0 295.0,564.3 294.4,566.9 C293.9,569.5 292.3,568.7 292.8,570.2 C293.3,571.8 298.9,574.1 296.7,573.6 C294.5,573.0 289.0,570.6 283.3,568.0 C277.6,565.4 277.4,564.9 272.2,562.4 C267.0,560.0 266.3,559.5 261.1,557.4 C255.9,555.4 252.6,554.5 250.0,553.6" fill="none" stroke="#7a7a7a" stroke-width="0.9" stroke-linejoin="round" stroke-linecap="round"/>
<path d="M250.0,538.0 C252.6,538.1 255.9,536.7 261.1,538.2 C266.3,539.8 268.3,542.5 272.2,544.7 C276.1,546.8 275.7,545.1 277.8,547.4 C279.9,549.8 279.8,551.9 281.1,554.7 C282.4,557.4 282.6,556.3 283.3,559.1 C284.1,562.0 283.9,562.7 284.4,566.9 C285.0,571.0 285.8,573.6 285.6,576.9 C285.3,580.1 286.4,581.0 283.3,580.8 C280.2,580.5 277.4,578.1 272.2,575.8 C267.0,573.4 266.3,573.4 261.1,570.8 C255.9,568.2 252.6,566.1 250.0,564.7" fill="none" stroke="#7a7a7a" stroke-width="0.9" stroke-linejoin="round" stroke-linecap="round"/>
<path d="M250.0,540.8 C252.6,541.2 256.4,541.1 261.1,542.4 C265.8,543.7 267.7,544.5 270.0,546.3 C272.3,548.1 271.4,547.5 271.1,550.2 C270.9,552.9 269.7,555.1 268.9,558.0 C268.1,560.9 268.8,560.9 267.8,562.4 C266.7,564.0 266.0,564.7 264.4,564.7 C262.9,564.7 262.1,564.3 261.1,562.4 C260.1,560.6 261.0,559.2 260.0,556.9 C259.0,554.6 259.0,553.6 256.7,552.4 C254.3,551.3 251.6,552.0 250.0,551.9" fill="none" stroke="#7a7a7a" stroke-width="0.9" stroke-linejoin="round" stroke-linecap="round"/>
<path d="M250.0,554.7 C252.6,556.0 255.9,557.9 261.1,560.2 C266.3,562.6 269.1,563.4 272.2,564.7 C275.3,566.0 273.9,565.5 274.4,565.8" fill="none" stroke="#7a7a7a" stroke-width="0.9" stroke-linejoin="round" stroke-linecap="round"/>
<path d="M250.0,564.7 C251.6,565.7 254.6,567.3 256.7,569.1 C258.7,570.9 259.4,570.9 258.9,572.4 C258.4,574.0 256.5,574.9 254.4,575.8 C252.4,576.7 251.0,576.2 250.0,576.3" fill="none" stroke="#7a7a7a" stroke-width="0.9" stroke-linejoin="round" stroke-linecap="round"/>
<path d="M272.2,571.3 C273.5,570.0 275.2,568.9 277.8,565.8 C280.4,562.7 281.8,562.1 283.3,558.0 C284.9,553.9 283.4,551.6 284.4,548.0 C285.5,544.4 285.4,544.3 287.8,542.4 C290.1,540.6 291.9,540.7 294.4,540.2 C297.0,539.7 296.6,539.2 298.9,540.2 C301.2,541.3 302.1,541.8 304.4,544.7 C306.8,547.5 307.1,548.8 308.9,552.4 C310.7,556.1 310.4,556.6 312.2,560.2 C314.0,563.9 315.1,564.4 316.7,568.0 C318.2,571.6 318.6,572.1 318.9,575.8 C319.1,579.4 319.1,579.9 317.8,583.6 C316.5,587.2 316.2,589.0 313.3,591.3 C310.5,593.7 310.0,592.5 305.6,593.6 C301.1,594.6 299.6,595.1 294.4,595.8 C289.3,596.4 289.8,596.6 283.3,596.3 C276.9,596.1 274.4,595.3 266.7,594.7 C258.9,594.0 253.9,593.8 250.0,593.6" fill="none" stroke="#7a7a7a" stroke-width="0.9" stroke-linejoin="round" stroke-linecap="round"/>
<path d="M250.0,557.4 C252.1,558.4 255.0,559.6 258.9,561.3 C262.8,563.0 264.9,563.9 266.7,564.7" fill="none" stroke="#7a7a7a" stroke-width="0.9" stroke-linejoin="round" stroke-linecap="round"/>
</g>
<g clip-path="url(#clipD2)">
<path d="M142.5,626 C143.5,622 148,620.5 152,621.5 C149,623 146,625 145,628 C147,630 150,631 152,630 C150,633 146,632.5 144,630.5 C142.8,629 142.4,627.5 142.5,626 Z" fill="#000"/>
<path d="M143.0,626.0 C143.8,624.9 143.6,623.3 146.0,622.0 C148.4,620.7 149.3,620.7 152.0,621.0 C154.7,621.3 154.7,621.4 156.0,623.0 C157.3,624.6 157.3,624.9 157.0,627.0 C156.7,629.1 156.9,629.5 155.0,631.0 C153.1,632.5 152.4,632.5 150.0,632.5 C147.6,632.5 147.6,632.2 146.0,631.0 C144.4,629.8 144.5,628.8 144.0,628.0" fill="none" stroke="#000" stroke-width="1.5" stroke-linejoin="round" stroke-linecap="round"/>
<path d="M146.0,624.0 C147.1,624.5 148.1,624.7 150.0,626.0 C151.9,627.3 151.4,627.7 153.0,629.0 C154.6,630.3 155.2,630.5 156.0,631.0" fill="none" stroke="#000" stroke-width="1.5" stroke-linejoin="round" stroke-linecap="round"/>
<path d="M150.0,622.0 C149.7,623.1 148.7,623.9 149.0,626.0 C149.3,628.1 150.5,628.9 151.0,630.0" fill="none" stroke="#000" stroke-width="1.5" stroke-linejoin="round" stroke-linecap="round"/>
<path d="M154.0,622.5 C153.5,623.7 152.0,625.0 152.0,627.0 C152.0,629.0 152.5,629.5 154.0,630.0 C155.5,630.5 156.6,629.3 157.5,629.0" fill="none" stroke="#000" stroke-width="1.5" stroke-linejoin="round" stroke-linecap="round"/>
<path d="M145.0,630.0 C145.8,629.2 146.1,628.6 148.0,627.0 C149.9,625.4 149.9,624.5 152.0,624.0 C154.1,623.5 154.9,624.7 156.0,625.0" fill="none" stroke="#000" stroke-width="1.5" stroke-linejoin="round" stroke-linecap="round"/>
<path d="M146.0,632.0 C147.1,632.9 146.3,633.7 150.0,635.5 C153.7,637.3 156.7,638.5 160.0,638.8 C163.3,639.1 163.3,638.6 162.5,636.5 C161.7,634.4 158.5,632.5 157.0,631.0" fill="none" stroke="#000" stroke-width="1.5" stroke-linejoin="round" stroke-linecap="round"/>
<path d="M150.0,622.8 C154.1,622.9 156.0,623.1 165.4,623.1 C174.9,623.1 174.0,622.4 185.5,622.8 C197.0,623.2 196.7,624.2 208.6,624.7 C220.6,625.1 219.2,625.2 230.2,624.7 C241.3,624.1 244.7,623.1 250.0,622.5" fill="none" stroke="#000" stroke-width="1.7" stroke-linejoin="round" stroke-linecap="round"/>
<path d="M150.0,625.1 C155.3,625.3 157.7,625.1 170.1,625.9 C182.4,626.7 184.4,627.4 196.3,628.2 C208.2,629.0 204.1,629.4 214.8,629.0 C225.5,628.6 227.0,628.0 236.4,626.7 C245.8,625.3 246.4,624.7 250.0,624.0" fill="none" stroke="#000" stroke-width="1.7" stroke-linejoin="round" stroke-linecap="round"/>
<path d="M150.0,626.7 C156.2,626.9 160.8,626.6 173.1,627.4 C185.5,628.3 184.0,628.9 196.3,629.7 C208.6,630.6 208.7,630.9 219.4,630.5 C230.1,630.1 228.3,629.4 236.4,628.2 C244.6,627.0 246.4,626.5 250.0,625.9" fill="none" stroke="#000" stroke-width="1.7" stroke-linejoin="round" stroke-linecap="round"/>
<path d="M153.1,627.4 C160.5,627.8 167.3,628.1 180.9,629.0 C194.4,629.9 191.7,630.5 204.0,630.8 C216.4,631.2 214.9,630.9 227.2,630.2 C239.4,629.5 243.9,628.7 250.0,628.2" fill="none" stroke="#000" stroke-width="1.7" stroke-linejoin="round" stroke-linecap="round"/>
<path d="M160.8,635.9 C165.3,636.1 168.3,635.9 177.8,636.7 C187.2,637.5 186.4,638.2 196.3,639.0 C206.2,639.8 204.9,638.5 214.8,639.8 C224.7,641.0 224.0,641.2 233.3,643.6 C242.7,646.1 245.6,647.6 250.0,649.0" fill="none" stroke="#000" stroke-width="1.7" stroke-linejoin="round" stroke-linecap="round"/>
<path d="M168.5,638.2 C171.0,639.5 173.3,640.4 177.8,642.9 C182.3,645.3 180.6,645.4 185.5,647.5 C190.4,649.6 188.5,649.3 196.3,650.6 C204.1,651.9 204.9,651.6 214.8,652.4 C224.7,653.3 224.0,653.0 233.3,653.7 C242.7,654.3 245.6,654.6 250.0,654.9" fill="none" stroke="#000" stroke-width="1.7" stroke-linejoin="round" stroke-linecap="round"/>
<path d="M250.0,632.1 C244.7,632.7 240.5,633.1 230.2,634.4 C220.0,635.6 220.8,635.0 211.7,636.7 C202.7,638.3 202.9,638.1 196.3,640.5 C189.7,643.0 190.1,642.9 187.0,646.0 C184.0,649.0 185.8,647.6 184.7,652.1 C183.7,656.7 183.0,658.0 183.2,662.9 C183.4,667.9 183.6,667.3 185.5,670.6 C187.3,673.9 186.8,673.4 190.1,675.3 C193.4,677.1 195.0,678.0 197.8,677.6 C200.7,677.2 198.9,675.2 200.9,673.7 C203.0,672.3 203.1,672.2 205.6,672.2 C208.0,672.2 208.1,672.5 210.2,673.7 C212.2,675.0 212.0,675.6 213.3,676.8 C214.5,678.0 213.6,678.8 214.8,678.4 C216.0,677.9 214.6,676.7 217.9,675.3 C221.2,673.8 222.2,674.0 227.2,673.0 C232.1,671.9 230.3,672.4 236.4,671.4 C242.5,670.4 246.4,669.7 250.0,669.1" fill="none" stroke="#000" stroke-width="1.7" stroke-linejoin="round" stroke-linecap="round"/>
<path d="M250.0,635.1 C246.4,635.1 244.6,634.5 236.4,635.1 C228.3,635.8 226.9,636.4 219.4,637.5 C212.0,638.5 212.8,636.9 208.6,639.0 C204.5,641.1 204.0,642.9 204.0,645.2 C204.0,647.4 206.6,646.1 208.6,647.5 C210.7,648.9 210.3,648.5 211.7,650.6 C213.2,652.6 214.9,653.2 214.0,655.2 C213.2,657.3 210.5,656.7 208.6,658.3 C206.8,659.9 208.7,659.7 207.1,661.4 C205.5,663.0 203.9,662.8 202.5,664.5 C201.0,666.1 203.3,668.0 201.7,667.6 C200.1,667.1 199.2,665.8 196.3,662.9 C193.4,660.0 193.4,660.5 190.9,656.8 C188.4,653.0 187.7,652.7 187.0,649.0 C186.4,645.3 186.1,645.3 188.6,642.9 C191.0,640.4 190.9,641.4 196.3,639.8 C201.6,638.1 205.3,637.5 208.6,636.7" fill="none" stroke="#000" stroke-width="1.7" stroke-linejoin="round" stroke-linecap="round"/>
<path d="M210.2,642.9 C210.6,645.3 210.1,648.0 211.7,652.1 C213.4,656.2 212.2,655.4 216.4,658.3 C220.5,661.2 220.2,660.9 227.2,662.9 C234.2,665.0 236.5,665.0 242.6,666.0 C248.7,667.0 248.0,666.6 250.0,666.8" fill="none" stroke="#000" stroke-width="1.7" stroke-linejoin="round" stroke-linecap="round"/>
<path d="M250.0,622.8 C255.7,622.7 260.7,622.8 271.3,622.5 C281.9,622.2 284.1,621.6 289.8,621.6 C295.6,621.6 292.9,622.1 292.9,622.5 C292.9,622.9 295.6,622.7 289.8,623.1 C284.1,623.5 281.9,623.5 271.3,624.0 C260.7,624.5 255.7,624.7 250.0,625.0" fill="none" stroke="#000" stroke-width="1.7" stroke-linejoin="round" stroke-linecap="round"/>
<path d="M250.0,624.7 C253.6,624.7 256.7,624.4 263.6,624.7 C270.5,624.9 270.6,625.0 275.9,625.6 C281.3,626.1 279.9,625.8 283.6,626.7 C287.3,627.6 286.5,627.5 289.8,629.0 C293.1,630.4 294.5,628.4 296.0,632.1 C297.4,635.8 296.5,637.5 295.2,642.9 C294.0,648.2 294.4,648.6 291.4,652.1 C288.3,655.6 289.0,654.7 283.6,656.0 C278.3,657.3 278.7,657.0 271.3,657.1 C263.9,657.1 261.5,656.5 255.9,656.1 C250.2,655.8 251.6,655.8 250.0,655.7" fill="none" stroke="#000" stroke-width="1.7" stroke-linejoin="round" stroke-linecap="round"/>
<path d="M250.0,627.1 C251.6,627.2 250.2,627.6 255.9,627.4 C261.5,627.3 263.9,627.1 271.3,626.7 C278.7,626.2 279.1,625.3 283.6,625.9 C288.2,626.5 287.4,625.7 288.3,629.0 C289.1,632.3 288.0,633.3 286.7,638.2 C285.5,643.2 285.5,644.2 283.6,647.5 C281.8,650.8 283.1,650.4 279.8,650.6 C276.5,650.8 276.9,650.3 271.3,648.3 C265.7,646.2 264.6,645.5 259.0,642.9 C253.3,640.3 252.4,639.7 250.0,638.5" fill="none" stroke="#000" stroke-width="1.7" stroke-linejoin="round" stroke-linecap="round"/>
<path d="M250.0,632.4 C251.6,632.7 251.0,631.6 255.9,633.6 C260.7,635.6 262.4,636.1 268.2,639.8 C274.0,643.5 273.4,644.2 277.5,647.5 C281.6,650.8 280.3,651.3 283.6,652.1 C286.9,652.9 286.9,652.6 289.8,650.6 C292.7,648.5 292.6,648.9 294.4,644.4 C296.3,639.9 297.2,637.7 296.8,633.6 C296.3,629.5 295.6,631.0 292.9,629.0 C290.2,626.9 290.4,626.9 286.7,625.9 C283.0,624.9 281.1,625.3 279.0,625.1" fill="none" stroke="#000" stroke-width="1.7" stroke-linejoin="round" stroke-linecap="round"/>
<path d="M250.0,649.0 C251.6,649.7 251.0,649.3 255.9,651.4 C260.7,653.4 262.0,653.7 268.2,656.8 C274.4,659.8 274.5,660.5 279.0,662.9 C283.5,665.4 284.4,664.2 285.2,666.0 C286.0,667.9 284.6,668.4 282.1,669.9 C279.6,671.3 278.8,672.0 275.9,671.4 C273.0,670.8 274.6,668.8 271.3,667.6 C268.0,666.3 268.5,666.4 263.6,666.8 C258.6,667.2 256.4,668.4 252.8,669.1 C249.2,669.8 250.7,669.3 250.0,669.4" fill="none" stroke="#000" stroke-width="1.7" stroke-linejoin="round" stroke-linecap="round"/>
<path d="M250.0,666.3 C251.6,666.4 252.2,667.3 255.9,666.8 C259.5,666.3 259.9,666.1 263.6,664.5 C267.3,662.8 267.3,662.7 269.8,660.6 C272.2,658.6 274.5,658.2 272.8,656.8 C271.2,655.3 269.7,655.8 263.6,655.2 C257.5,654.6 253.6,654.8 250.0,654.6" fill="none" stroke="#000" stroke-width="1.7" stroke-linejoin="round" stroke-linecap="round"/>
</g>
<path d="M274.9,730.3 C279.0,730.4 311.6,731.1 316.0,731.5 C320.4,731.9 321.8,733.5 318.9,733.8 C316.0,734.1 295.7,734.2 286.6,734.4 C277.5,734.6 237.4,735.4 228.0,735.6 C218.6,735.8 196.5,736.3 192.8,736.7 C189.1,737.1 190.3,739.5 191.3,739.7 C192.3,739.9 202.1,739.1 203.0,739.1 C203.9,739.1 197.6,740.0 200.1,740.2 C202.6,740.4 218.8,740.9 228.0,741.1 C237.2,741.3 285.8,741.8 292.5,742.0 C299.2,742.2 301.8,743.0 295.4,743.2 C288.9,743.4 240.6,744.0 228.0,744.1 C215.4,744.2 177.5,744.5 169.3,744.6 C161.1,744.7 147.8,745.1 145.9,745.5 C144.0,745.9 149.1,747.9 150.3,748.5 C151.5,749.1 155.7,750.9 157.6,751.4 C159.5,751.9 162.3,753.1 169.3,753.4 C176.3,753.7 219.2,754.1 228.0,754.3 C236.8,754.5 257.3,755.6 257.3,755.8 C257.3,756.0 231.8,756.5 228.0,756.7 C224.2,756.9 220.4,757.3 219.2,757.8 C218.0,758.3 217.1,761.1 216.2,761.7 C215.3,762.3 211.9,763.2 210.4,763.8 C208.9,764.4 201.3,767.0 201.6,767.5 C201.9,768.0 207.7,768.1 213.3,768.4 C218.9,768.7 250.3,770.2 257.3,770.5 C264.3,770.8 286.6,771.3 283.7,771.5 C280.8,771.7 241.2,772.1 228.0,772.3 C214.8,772.5 158.7,773.1 151.7,773.5 C144.7,773.9 156.4,775.5 157.6,775.9 C158.8,776.3 163.8,777.0 163.5,777.3 C163.2,777.6 153.5,778.2 154.7,778.8 C155.9,779.4 174.3,782.6 175.2,783.2 C176.1,783.8 165.6,784.3 163.5,784.7 C161.4,785.1 156.2,787.1 154.7,787.6 C153.2,788.1 147.3,789.5 148.8,789.9 C150.3,790.3 161.4,791.7 169.3,792.0 C177.2,792.3 218.0,792.6 228.0,792.9 C238.0,793.2 269.0,794.5 269.0,794.9 C269.0,795.2 240.3,796.1 228.0,796.4 C215.7,796.7 154.4,797.6 145.9,797.9 C137.4,798.2 142.0,798.9 142.9,799.3 C143.8,799.7 146.2,801.2 154.7,801.7 C163.2,802.2 217.4,804.1 228.0,804.6 C238.6,805.1 258.6,806.3 260.2,806.7 C261.8,807.1 245.6,808.3 244.0,808.5" fill="none" stroke="#7a7a7a" stroke-width="0.9" stroke-linejoin="round" stroke-linecap="round"/>
<path d="M243.7,808.5 C242.7,808.5 234.4,808.8 231.8,808.8 C229.2,808.8 214.7,809.0 212.4,809.1 C210.1,809.2 204.2,809.4 203.8,809.5 C203.4,809.6 206.0,810.2 207.0,810.4 C208.0,810.6 215.5,811.4 215.6,811.5 C215.7,811.6 209.0,811.6 208.1,811.7 C207.2,811.8 205.3,813.0 204.8,813.1 C204.3,813.2 202.4,813.3 201.6,813.4 C200.8,813.5 196.4,814.5 195.1,814.7 C193.8,814.9 186.7,816.1 186.5,816.3 C186.3,816.5 191.3,817.0 193.0,817.1 C194.7,817.2 205.3,817.6 207.0,817.7 C208.7,817.8 211.6,818.1 213.3,818.2 C215.1,818.3 222.4,818.9 228.0,819.1 C233.6,819.3 275.9,820.3 280.8,820.5 C285.7,820.7 291.0,821.8 286.6,822.0 C282.2,822.2 239.5,823.3 228.0,823.5 C216.5,823.7 155.6,823.8 148.8,824.0 C142.0,824.2 145.4,826.0 145.9,826.4 C146.4,826.8 147.9,829.0 154.7,829.3 C161.5,829.6 218.2,829.8 228.0,829.9 C237.8,830.0 270.9,830.6 272.0,830.8 C273.1,831.0 244.9,832.4 240.6,832.6 C236.3,832.8 223.0,833.3 220.9,833.5 C218.8,833.7 216.3,835.0 215.7,835.2 C215.0,835.5 213.8,836.4 213.1,836.5 C212.4,836.6 208.7,836.8 207.8,836.9 C206.9,837.0 203.3,838.0 202.6,838.2 C201.9,838.4 200.8,839.3 199.9,839.5 C199.0,839.7 193.5,840.4 192.1,840.5 C190.7,840.6 183.0,841.0 182.9,841.1 C182.8,841.2 188.6,841.7 190.7,841.8 C192.8,841.9 204.3,842.3 207.8,842.4 C211.3,842.5 226.4,842.9 232.7,843.1 C239.0,843.3 279.7,844.3 283.7,844.6 C287.7,844.9 285.4,846.1 280.8,846.3 C276.2,846.5 233.9,847.3 228.0,847.5 C222.1,847.7 205.0,848.1 210.4,848.4 C215.8,848.7 297.9,850.5 292.5,850.9 C287.1,851.3 157.1,852.6 145.9,853.2 C134.7,853.8 157.6,857.7 157.6,858.2 C157.6,858.7 146.6,859.1 145.9,859.7 C145.2,860.3 148.9,864.9 148.8,865.5 C148.7,866.1 143.9,866.8 144.4,867.0 C144.9,867.2 147.7,868.3 154.7,868.5 C161.7,868.7 216.3,869.5 228.0,869.9 C239.7,870.3 295.4,872.5 295.4,872.9 C295.4,873.3 240.5,874.1 228.0,874.3 C215.5,874.5 153.0,874.7 145.9,874.9 C138.8,875.1 142.7,876.4 142.9,876.7 C143.1,877.0 148.6,878.3 148.8,878.7 C149.1,879.1 145.7,881.3 145.9,881.7 C146.1,882.1 144.9,882.9 151.7,883.1 C158.5,883.3 216.3,883.5 228.0,883.7 C239.7,884.0 287.1,885.9 292.5,886.1" fill="none" stroke="#000" stroke-width="1.7" stroke-linejoin="round" stroke-linecap="round"/>
<rect x="141.8" y="65.6" width="179.0" height="71.5" fill="none" stroke="#484848" stroke-width="1.3"/>
<rect x="141.8" y="151.5" width="179.0" height="70.69999999999999" fill="none" stroke="#484848" stroke-width="1.3"/>
<rect x="141.8" y="527.6" width="179.0" height="70.5" fill="none" stroke="#484848" stroke-width="1.3"/>
<rect x="141.8" y="614.6" width="179.0" height="71.0" fill="none" stroke="#484848" stroke-width="1.3"/>
<text x="231.6" y="41" font-size="12.2" fill="#000" stroke="#000" text-anchor="middle" textLength="53.7" lengthAdjust="spacingAndGlyphs">Trajectory</text>
<text x="98.2" y="109.8" font-size="12.8" fill="#000" stroke="#000" textLength="39" lengthAdjust="spacingAndGlyphs">Before</text>
<text x="98.2" y="191.6" font-size="12.8" fill="#000" stroke="#000" textLength="30.8" lengthAdjust="spacingAndGlyphs">After</text>
<text x="140.9" y="233.9" font-size="12.2" fill="#8e8e8e" stroke="#8e8e8e" textLength="39.6" lengthAdjust="spacingAndGlyphs">Control</text>
<text x="295.6" y="233.9" font-size="12.2" fill="#1a40f6" stroke="#1a40f6" textLength="26.7" lengthAdjust="spacingAndGlyphs">Odor</text>
<text x="231.6" y="503.5" font-size="12.2" fill="#000" stroke="#000" text-anchor="middle" textLength="53.7" lengthAdjust="spacingAndGlyphs">Trajectory</text>
<text x="98.2" y="568.6" font-size="12.8" fill="#000" stroke="#000" textLength="39" lengthAdjust="spacingAndGlyphs">Before</text>
<text x="98.2" y="653.7" font-size="12.8" fill="#000" stroke="#000" textLength="30.8" lengthAdjust="spacingAndGlyphs">After</text>
<text x="140.9" y="698.2" font-size="12.2" fill="#8e8e8e" stroke="#8e8e8e" textLength="39.6" lengthAdjust="spacingAndGlyphs">Control</text>
<text x="295.6" y="698.2" font-size="12.2" fill="#000" stroke="#000" textLength="26.7" lengthAdjust="spacingAndGlyphs">Odor</text>
<text x="188.2" y="245" font-size="12.2" fill="#000" stroke="#000" textLength="87.3" lengthAdjust="spacingAndGlyphs">X position (mm)</text>
<text x="142" y="249.3" font-size="12.2" fill="#000" stroke="#000" text-anchor="middle">0</text>
<text x="321" y="249.3" font-size="12.2" fill="#000" stroke="#000" text-anchor="middle">500</text>
<line x1="141.5" y1="256.8" x2="320.7" y2="256.8" stroke="#555" stroke-width="1.3"/>
<line x1="141.5" y1="256.8" x2="141.5" y2="413.4" stroke="#555" stroke-width="1.3"/>
<line x1="141.5" y1="256.8" x2="141.5" y2="254.0" stroke="#555" stroke-width="1"/>
<line x1="177.34" y1="256.8" x2="177.34" y2="254.0" stroke="#555" stroke-width="1"/>
<line x1="213.18" y1="256.8" x2="213.18" y2="254.0" stroke="#555" stroke-width="1"/>
<line x1="249.01999999999998" y1="256.8" x2="249.01999999999998" y2="254.0" stroke="#555" stroke-width="1"/>
<line x1="284.86" y1="256.8" x2="284.86" y2="254.0" stroke="#555" stroke-width="1"/>
<line x1="320.7" y1="256.8" x2="320.7" y2="254.0" stroke="#555" stroke-width="1"/>
<line x1="137.0" y1="256.8" x2="141.5" y2="256.8" stroke="#555" stroke-width="1"/>
<line x1="139.0" y1="269.85" x2="141.5" y2="269.85" stroke="#555" stroke-width="1"/>
<line x1="139.0" y1="282.9" x2="141.5" y2="282.9" stroke="#555" stroke-width="1"/>
<line x1="137.0" y1="295.95" x2="141.5" y2="295.95" stroke="#555" stroke-width="1"/>
<line x1="139.0" y1="309.0" x2="141.5" y2="309.0" stroke="#555" stroke-width="1"/>
<line x1="139.0" y1="322.05" x2="141.5" y2="322.05" stroke="#555" stroke-width="1"/>
<line x1="137.0" y1="335.1" x2="141.5" y2="335.1" stroke="#555" stroke-width="1"/>
<line x1="139.0" y1="348.15" x2="141.5" y2="348.15" stroke="#555" stroke-width="1"/>
<line x1="139.0" y1="361.2" x2="141.5" y2="361.2" stroke="#555" stroke-width="1"/>
<line x1="137.0" y1="374.25" x2="141.5" y2="374.25" stroke="#555" stroke-width="1"/>
<line x1="139.0" y1="387.29999999999995" x2="141.5" y2="387.29999999999995" stroke="#555" stroke-width="1"/>
<line x1="139.0" y1="400.35" x2="141.5" y2="400.35" stroke="#555" stroke-width="1"/>
<line x1="137.0" y1="413.4" x2="141.5" y2="413.4" stroke="#555" stroke-width="1"/>
<text x="137.4" y="261.1" font-size="12.2" fill="#000" stroke="#000" text-anchor="end">-6</text>
<text x="137.4" y="300.25" font-size="12.2" fill="#000" stroke="#000" text-anchor="end">-3</text>
<text x="137.4" y="339.40000000000003" font-size="12.2" fill="#000" stroke="#000" text-anchor="end">0</text>
<text x="137.4" y="378.55" font-size="12.2" fill="#000" stroke="#000" text-anchor="end">3</text>
<text x="137.4" y="417.7" font-size="12.2" fill="#000" stroke="#000" text-anchor="end">6</text>
<text x="122.3" y="334" font-size="12.5" fill="#000" stroke="#000" text-anchor="middle" textLength="59.4" lengthAdjust="spacingAndGlyphs" transform="rotate(-90 122.3 334)">Time (min)</text>
<text x="140.8" y="427.2" font-size="12.2" fill="#8e8e8e" stroke="#8e8e8e" textLength="39.5" lengthAdjust="spacingAndGlyphs">Control</text>
<text x="293.8" y="427.2" font-size="12.2" fill="#1a40f6" stroke="#1a40f6" textLength="27" lengthAdjust="spacingAndGlyphs">Odor</text>
<text x="186.5" y="715.4" font-size="12.2" fill="#000" stroke="#000" textLength="86.9" lengthAdjust="spacingAndGlyphs">X position (mm)</text>
<text x="142" y="722.1" font-size="12.2" fill="#000" stroke="#000" text-anchor="middle">0</text>
<text x="321" y="722.1" font-size="12.2" fill="#000" stroke="#000" text-anchor="middle">500</text>
<line x1="141.5" y1="729.6" x2="320.7" y2="729.6" stroke="#555" stroke-width="1.3"/>
<line x1="141.5" y1="729.6" x2="141.5" y2="886.2" stroke="#555" stroke-width="1.3"/>
<line x1="141.5" y1="729.6" x2="141.5" y2="726.8000000000001" stroke="#555" stroke-width="1"/>
<line x1="177.34" y1="729.6" x2="177.34" y2="726.8000000000001" stroke="#555" stroke-width="1"/>
<line x1="213.18" y1="729.6" x2="213.18" y2="726.8000000000001" stroke="#555" stroke-width="1"/>
<line x1="249.01999999999998" y1="729.6" x2="249.01999999999998" y2="726.8000000000001" stroke="#555" stroke-width="1"/>
<line x1="284.86" y1="729.6" x2="284.86" y2="726.8000000000001" stroke="#555" stroke-width="1"/>
<line x1="320.7" y1="729.6" x2="320.7" y2="726.8000000000001" stroke="#555" stroke-width="1"/>
<line x1="137.0" y1="729.6" x2="141.5" y2="729.6" stroke="#555" stroke-width="1"/>
<line x1="139.0" y1="742.65" x2="141.5" y2="742.65" stroke="#555" stroke-width="1"/>
<line x1="139.0" y1="755.7" x2="141.5" y2="755.7" stroke="#555" stroke-width="1"/>
<line x1="137.0" y1="768.75" x2="141.5" y2="768.75" stroke="#555" stroke-width="1"/>
<line x1="139.0" y1="781.8000000000001" x2="141.5" y2="781.8000000000001" stroke="#555" stroke-width="1"/>
<line x1="139.0" y1="794.85" x2="141.5" y2="794.85" stroke="#555" stroke-width="1"/>
<line x1="137.0" y1="807.9000000000001" x2="141.5" y2="807.9000000000001" stroke="#555" stroke-width="1"/>
<line x1="139.0" y1="820.95" x2="141.5" y2="820.95" stroke="#555" stroke-width="1"/>
<line x1="139.0" y1="834.0" x2="141.5" y2="834.0" stroke="#555" stroke-width="1"/>
<line x1="137.0" y1="847.0500000000001" x2="141.5" y2="847.0500000000001" stroke="#555" stroke-width="1"/>
<line x1="139.0" y1="860.1" x2="141.5" y2="860.1" stroke="#555" stroke-width="1"/>
<line x1="139.0" y1="873.1500000000001" x2="141.5" y2="873.1500000000001" stroke="#555" stroke-width="1"/>
<line x1="137.0" y1="886.2" x2="141.5" y2="886.2" stroke="#555" stroke-width="1"/>
<text x="137.4" y="733.9" font-size="12.2" fill="#000" stroke="#000" text-anchor="end">-6</text>
<text x="137.4" y="773.05" font-size="12.2" fill="#000" stroke="#000" text-anchor="end">-3</text>
<text x="137.4" y="812.2" font-size="12.2" fill="#000" stroke="#000" text-anchor="end">0</text>
<text x="137.4" y="851.35" font-size="12.2" fill="#000" stroke="#000" text-anchor="end">3</text>
<text x="137.4" y="890.5" font-size="12.2" fill="#000" stroke="#000" text-anchor="end">6</text>
<text x="122.3" y="806.8" font-size="12.5" fill="#000" stroke="#000" text-anchor="middle" textLength="59.4" lengthAdjust="spacingAndGlyphs" transform="rotate(-90 122.3 806.8)">Time (min)</text>
<text x="145.6" y="901.6" font-size="13.4" fill="#8e8e8e" stroke="#8e8e8e" textLength="42.5" lengthAdjust="spacingAndGlyphs">Control</text>
<text x="289.4" y="901.6" font-size="13.4" fill="#000" stroke="#000" textLength="28.7" lengthAdjust="spacingAndGlyphs">Odor</text>
<line x1="420.1" y1="66.1" x2="420.1" y2="222.5" stroke="#000" stroke-width="1.6"/>
<line x1="414.3" y1="81" x2="420.1" y2="81" stroke="#000" stroke-width="1.6"/>
<text x="411.3" y="85.7" font-size="12.4" fill="#000" stroke="#000" text-anchor="end">180</text>
<line x1="414.3" y1="151.8" x2="420.1" y2="151.8" stroke="#000" stroke-width="1.6"/>
<text x="411.3" y="156.5" font-size="12.4" fill="#000" stroke="#000" text-anchor="end">90</text>
<line x1="414.3" y1="222.5" x2="420.1" y2="222.5" stroke="#000" stroke-width="1.6"/>
<text x="411.3" y="227.2" font-size="12.4" fill="#000" stroke="#000" text-anchor="end">0</text>
<text x="389" y="143.5" font-size="12.4" fill="#000" stroke="#000" text-anchor="middle" textLength="79" lengthAdjust="spacingAndGlyphs" transform="rotate(-90 389 143.5)">Time spent (s)</text>
<line x1="432.6" y1="222.5" x2="523.1" y2="222.5" stroke="#000" stroke-width="1.6"/>
<line x1="543.7" y1="222.5" x2="633.6" y2="222.5" stroke="#000" stroke-width="1.6"/>
<line x1="453.9" y1="222.5" x2="453.9" y2="232.5" stroke="#000" stroke-width="1.6"/>
<line x1="507.9" y1="222.5" x2="507.9" y2="232.5" stroke="#000" stroke-width="1.6"/>
<line x1="565.8" y1="222.5" x2="565.8" y2="232.5" stroke="#000" stroke-width="1.6"/>
<line x1="611.1" y1="222.5" x2="611.1" y2="232.5" stroke="#000" stroke-width="1.6"/>
<text x="453.9" y="250.1" font-size="12.2" fill="#000" stroke="#000" text-anchor="middle" textLength="34.5" lengthAdjust="spacingAndGlyphs">before</text>
<text x="507.9" y="250.1" font-size="12.2" fill="#000" stroke="#000" text-anchor="middle" textLength="24.5" lengthAdjust="spacingAndGlyphs">after</text>
<text x="565.8" y="250.1" font-size="12.2" fill="#000" stroke="#000" text-anchor="middle" textLength="34.5" lengthAdjust="spacingAndGlyphs">before</text>
<text x="611.1" y="250.1" font-size="12.2" fill="#000" stroke="#000" text-anchor="middle" textLength="24.5" lengthAdjust="spacingAndGlyphs">after</text>
<line x1="453.9" y1="170.6" x2="507.9" y2="81.3" stroke="#1222f2" stroke-width="1.8"/>
<line x1="453.9" y1="163.3" x2="507.9" y2="125.2" stroke="#1222f2" stroke-width="1.8"/>
<line x1="453.9" y1="191.7" x2="507.9" y2="145.3" stroke="#1222f2" stroke-width="1.8"/>
<line x1="453.9" y1="182.5" x2="507.9" y2="151.2" stroke="#1222f2" stroke-width="1.8"/>
<line x1="453.9" y1="175.5" x2="507.9" y2="157.1" stroke="#1222f2" stroke-width="1.8"/>
<line x1="453.9" y1="160.6" x2="507.9" y2="164.7" stroke="#1222f2" stroke-width="1.8"/>
<line x1="453.9" y1="163.3" x2="507.9" y2="169" stroke="#1222f2" stroke-width="1.8"/>
<circle cx="453.9" cy="160.6" r="2.6" fill="#fff" stroke="#333" stroke-width="1.0"/>
<circle cx="453.9" cy="163.3" r="2.6" fill="#fff" stroke="#333" stroke-width="1.0"/>
<circle cx="453.9" cy="170.6" r="2.6" fill="#fff" stroke="#333" stroke-width="1.0"/>
<circle cx="453.9" cy="175.5" r="2.6" fill="#fff" stroke="#333" stroke-width="1.0"/>
<circle cx="453.9" cy="182.5" r="2.6" fill="#fff" stroke="#333" stroke-width="1.0"/>
<circle cx="453.9" cy="191.7" r="2.6" fill="#fff" stroke="#333" stroke-width="1.0"/>
<circle cx="507.9" cy="81.3" r="3.0" fill="#1222f2" stroke="#1222f2" stroke-width="0.5"/>
<circle cx="507.9" cy="125.2" r="3.0" fill="#1222f2" stroke="#1222f2" stroke-width="0.5"/>
<circle cx="507.9" cy="145.3" r="3.0" fill="#1222f2" stroke="#1222f2" stroke-width="0.5"/>
<circle cx="507.9" cy="151.2" r="3.0" fill="#1222f2" stroke="#1222f2" stroke-width="0.5"/>
<circle cx="507.9" cy="157.1" r="3.0" fill="#1222f2" stroke="#1222f2" stroke-width="0.5"/>
<circle cx="507.9" cy="164.7" r="3.0" fill="#1222f2" stroke="#1222f2" stroke-width="0.5"/>
<circle cx="507.9" cy="169" r="3.0" fill="#1222f2" stroke="#1222f2" stroke-width="0.5"/>
<line x1="565.8" y1="74.5" x2="611.1" y2="74.5" stroke="#000" stroke-width="3.2"/>
<text x="588.3" y="73.9" font-size="21" fill="#000" text-anchor="middle" stroke="#000" stroke-width="0.5">*</text>
<line x1="565.9" y1="161.7" x2="565.9" y2="167.7" stroke="#000" stroke-width="1.6"/>
<line x1="565.9" y1="178.2" x2="565.9" y2="191.8" stroke="#000" stroke-width="1.6"/>
<rect x="555.0" y="167.7" width="21.8" height="10.5" fill="#fff" stroke="#000" stroke-width="1.6"/>
<line x1="555.0" y1="170.1" x2="576.8" y2="170.1" stroke="#000" stroke-width="1.6"/>
<circle cx="565.8" cy="174.1" r="3.0" fill="#fff" stroke="#222" stroke-width="1.0"/>
<line x1="611.7" y1="81.8" x2="611.7" y2="135.9" stroke="#1222f2" stroke-width="1.6"/>
<line x1="611.7" y1="160.3" x2="611.7" y2="168.3" stroke="#1222f2" stroke-width="1.6"/>
<rect x="600.8000000000001" y="135.9" width="21.8" height="24.400000000000006" fill="#c2cbf8" stroke="#1222f2" stroke-width="1.6"/>
<line x1="600.8000000000001" y1="151.2" x2="622.6" y2="151.2" stroke="#1222f2" stroke-width="1.6"/>
<circle cx="611.6" cy="142.2" r="3.0" fill="#1222f2" stroke="#1222f2" stroke-width="0.5"/>
<line x1="420.1" y1="262" x2="420.1" y2="418" stroke="#000" stroke-width="1.6"/>
<line x1="409.3" y1="275.6" x2="420.1" y2="275.6" stroke="#000" stroke-width="1.6"/>
<text x="403.6" y="280.3" font-size="12.4" fill="#000" stroke="#000" text-anchor="end">20</text>
<line x1="409.3" y1="346.8" x2="420.1" y2="346.8" stroke="#000" stroke-width="1.6"/>
<text x="403.6" y="351.5" font-size="12.4" fill="#000" stroke="#000" text-anchor="end">10</text>
<line x1="409.3" y1="418" x2="420.1" y2="418" stroke="#000" stroke-width="1.6"/>
<text x="403.6" y="422.7" font-size="12.4" fill="#000" stroke="#000" text-anchor="end">0</text>
<text x="387.8" y="339.6" font-size="11.5" fill="#000" stroke="#000" text-anchor="middle" textLength="144" lengthAdjust="spacingAndGlyphs" transform="rotate(-90 387.8 339.6)">Swimming velocity (mm/s)</text>
<line x1="432.6" y1="418" x2="523.1" y2="418" stroke="#000" stroke-width="1.6"/>
<line x1="543.7" y1="418" x2="633.6" y2="418" stroke="#000" stroke-width="1.6"/>
<line x1="455.6" y1="418" x2="455.6" y2="428" stroke="#000" stroke-width="1.6"/>
<line x1="500.2" y1="418" x2="500.2" y2="428" stroke="#000" stroke-width="1.6"/>
<line x1="565.8" y1="418" x2="565.8" y2="428" stroke="#000" stroke-width="1.6"/>
<line x1="611.1" y1="418" x2="611.1" y2="428" stroke="#000" stroke-width="1.6"/>
<text x="455.6" y="445.6" font-size="12.2" fill="#000" stroke="#000" text-anchor="middle" textLength="34.5" lengthAdjust="spacingAndGlyphs">before</text>
<text x="500.2" y="445.6" font-size="12.2" fill="#000" stroke="#000" text-anchor="middle" textLength="24.5" lengthAdjust="spacingAndGlyphs">after</text>
<text x="565.8" y="445.6" font-size="12.2" fill="#000" stroke="#000" text-anchor="middle" textLength="34.5" lengthAdjust="spacingAndGlyphs">before</text>
<text x="611.1" y="445.6" font-size="12.2" fill="#000" stroke="#000" text-anchor="middle" textLength="24.5" lengthAdjust="spacingAndGlyphs">after</text>
<line x1="455.6" y1="290.5" x2="500.4" y2="317.3" stroke="#1222f2" stroke-width="1.8"/>
<line x1="455.6" y1="320.7" x2="500.4" y2="380.6" stroke="#1222f2" stroke-width="1.8"/>
<line x1="455.6" y1="326" x2="500.4" y2="382.1" stroke="#1222f2" stroke-width="1.8"/>
<line x1="455.6" y1="349.3" x2="500.4" y2="407" stroke="#1222f2" stroke-width="1.8"/>
<line x1="455.6" y1="369.7" x2="500.4" y2="378.3" stroke="#1222f2" stroke-width="1.8"/>
<line x1="455.6" y1="375.5" x2="500.4" y2="380.6" stroke="#1222f2" stroke-width="1.8"/>
<line x1="455.6" y1="380.2" x2="500.4" y2="375.5" stroke="#1222f2" stroke-width="1.8"/>
<circle cx="455.6" cy="290.5" r="2.6" fill="#fff" stroke="#999" stroke-width="1.0"/>
<circle cx="455.6" cy="320.7" r="2.6" fill="#fff" stroke="#999" stroke-width="1.0"/>
<circle cx="455.6" cy="326" r="2.6" fill="#fff" stroke="#999" stroke-width="1.0"/>
<circle cx="455.6" cy="349.3" r="2.6" fill="#fff" stroke="#999" stroke-width="1.0"/>
<circle cx="455.6" cy="369.7" r="2.6" fill="#fff" stroke="#999" stroke-width="1.0"/>
<circle cx="455.6" cy="375.5" r="2.6" fill="#fff" stroke="#999" stroke-width="1.0"/>
<circle cx="455.6" cy="380.2" r="2.6" fill="#fff" stroke="#999" stroke-width="1.0"/>
<circle cx="500.4" cy="317.3" r="3.0" fill="#1222f2" stroke="#1222f2" stroke-width="0.5"/>
<circle cx="500.4" cy="380.6" r="3.0" fill="#1222f2" stroke="#1222f2" stroke-width="0.5"/>
<circle cx="500.4" cy="382.1" r="3.0" fill="#1222f2" stroke="#1222f2" stroke-width="0.5"/>
<circle cx="500.4" cy="407" r="3.0" fill="#1222f2" stroke="#1222f2" stroke-width="0.5"/>
<circle cx="500.4" cy="378.3" r="3.0" fill="#1222f2" stroke="#1222f2" stroke-width="0.5"/>
<circle cx="500.4" cy="380.6" r="3.0" fill="#1222f2" stroke="#1222f2" stroke-width="0.5"/>
<circle cx="500.4" cy="375.5" r="3.0" fill="#1222f2" stroke="#1222f2" stroke-width="0.5"/>
<line x1="565.8" y1="270.1" x2="611.1" y2="270.1" stroke="#000" stroke-width="3.2"/>
<text x="588.3" y="269.5" font-size="21" fill="#000" text-anchor="middle" stroke="#000" stroke-width="0.5">*</text>
<line x1="565.9" y1="291.2" x2="565.9" y2="324.4" stroke="#000" stroke-width="1.6"/>
<line x1="565.9" y1="371.9" x2="565.9" y2="379.8" stroke="#000" stroke-width="1.6"/>
<rect x="555.0" y="324.4" width="21.8" height="47.5" fill="#fff" stroke="#000" stroke-width="1.6"/>
<line x1="555.0" y1="349.2" x2="576.8" y2="349.2" stroke="#000" stroke-width="1.6"/>
<circle cx="565.8" cy="344.6" r="3.0" fill="#fff" stroke="#222" stroke-width="1.0"/>
<line x1="611.7" y1="317.4" x2="611.7" y2="378.2" stroke="#1222f2" stroke-width="1.4"/>
<line x1="611.7" y1="380.4" x2="611.7" y2="406.5" stroke="#1222f2" stroke-width="1.4"/>
<rect x="600.8000000000001" y="378.2" width="21.8" height="2.1999999999999886" fill="#c2cbf8" stroke="#1222f2" stroke-width="1.4"/>
<line x1="600.8000000000001" y1="378.2" x2="622.6" y2="378.2" stroke="#1222f2" stroke-width="1.4"/>
<circle cx="611.6" cy="374.7" r="3.0" fill="#1222f2" stroke="#1222f2" stroke-width="0.5"/>
<line x1="420.1" y1="529.2" x2="420.1" y2="685.9" stroke="#000" stroke-width="1.6"/>
<line x1="414.3" y1="544.5" x2="420.1" y2="544.5" stroke="#000" stroke-width="1.6"/>
<text x="411.3" y="549.2" font-size="12.4" fill="#000" stroke="#000" text-anchor="end">180</text>
<line x1="414.3" y1="615" x2="420.1" y2="615" stroke="#000" stroke-width="1.6"/>
<text x="411.3" y="619.7" font-size="12.4" fill="#000" stroke="#000" text-anchor="end">90</text>
<line x1="414.3" y1="685.9" x2="420.1" y2="685.9" stroke="#000" stroke-width="1.6"/>
<text x="411.3" y="690.6" font-size="12.4" fill="#000" stroke="#000" text-anchor="end">0</text>
<text x="389" y="607" font-size="12.4" fill="#000" stroke="#000" text-anchor="middle" textLength="79" lengthAdjust="spacingAndGlyphs" transform="rotate(-90 389 607)">Time spent (s)</text>
<line x1="432.6" y1="685.9" x2="523.1" y2="685.9" stroke="#000" stroke-width="1.6"/>
<line x1="543.7" y1="685.9" x2="633.6" y2="685.9" stroke="#000" stroke-width="1.6"/>
<line x1="455.6" y1="685.9" x2="455.6" y2="695.9" stroke="#000" stroke-width="1.6"/>
<line x1="500.7" y1="685.9" x2="500.7" y2="695.9" stroke="#000" stroke-width="1.6"/>
<line x1="565.8" y1="685.9" x2="565.8" y2="695.9" stroke="#000" stroke-width="1.6"/>
<line x1="611.1" y1="685.9" x2="611.1" y2="695.9" stroke="#000" stroke-width="1.6"/>
<text x="455.6" y="713.5" font-size="12.2" fill="#000" stroke="#000" text-anchor="middle" textLength="34.5" lengthAdjust="spacingAndGlyphs">before</text>
<text x="500.7" y="713.5" font-size="12.2" fill="#000" stroke="#000" text-anchor="middle" textLength="24.5" lengthAdjust="spacingAndGlyphs">after</text>
<text x="565.8" y="713.5" font-size="12.2" fill="#000" stroke="#000" text-anchor="middle" textLength="34.5" lengthAdjust="spacingAndGlyphs">before</text>
<text x="611.1" y="713.5" font-size="12.2" fill="#000" stroke="#000" text-anchor="middle" textLength="24.5" lengthAdjust="spacingAndGlyphs">after</text>
<line x1="455.6" y1="596.6" x2="500.7" y2="618.5" stroke="#000" stroke-width="1.6"/>
<line x1="455.6" y1="601.3" x2="500.7" y2="630.9" stroke="#000" stroke-width="1.6"/>
<line x1="455.6" y1="617.9" x2="500.7" y2="627" stroke="#000" stroke-width="1.6"/>
<line x1="455.6" y1="627.5" x2="500.7" y2="639.5" stroke="#000" stroke-width="1.6"/>
<line x1="455.6" y1="642.7" x2="500.7" y2="624" stroke="#000" stroke-width="1.6"/>
<line x1="455.6" y1="646.2" x2="500.7" y2="647.7" stroke="#000" stroke-width="1.6"/>
<rect x="452.90000000000003" y="593.9" width="5.4" height="5.4" fill="#fff" stroke="#222" stroke-width="1.2"/>
<rect x="452.90000000000003" y="598.5999999999999" width="5.4" height="5.4" fill="#fff" stroke="#222" stroke-width="1.2"/>
<rect x="452.90000000000003" y="615.1999999999999" width="5.4" height="5.4" fill="#fff" stroke="#222" stroke-width="1.2"/>
<rect x="452.90000000000003" y="624.8" width="5.4" height="5.4" fill="#fff" stroke="#222" stroke-width="1.2"/>
<rect x="452.90000000000003" y="640.0" width="5.4" height="5.4" fill="#fff" stroke="#222" stroke-width="1.2"/>
<rect x="452.90000000000003" y="643.5" width="5.4" height="5.4" fill="#fff" stroke="#222" stroke-width="1.2"/>
<rect x="497.9" y="618.2" width="5.9" height="24.2" fill="#000" stroke="none" stroke-width="1.5"/>
<rect x="497.9" y="644.9000000000001" width="5.6" height="5.6" fill="#000" stroke="#000" stroke-width="0.5"/>
<line x1="565.9" y1="596.8" x2="565.9" y2="601.9" stroke="#000" stroke-width="1.6"/>
<line x1="565.9" y1="643.1" x2="565.9" y2="645.7" stroke="#000" stroke-width="1.6"/>
<rect x="555.0" y="601.9" width="21.8" height="41.200000000000045" fill="#fff" stroke="#000" stroke-width="1.6"/>
<line x1="555.0" y1="622.6" x2="576.8" y2="622.6" stroke="#000" stroke-width="1.6"/>
<rect x="563.3" y="619.7" width="5.0" height="5.0" fill="#fff" stroke="#777" stroke-width="1.0"/>
<line x1="611.7" y1="621.2" x2="611.7" y2="625.2" stroke="#000" stroke-width="1.6"/>
<line x1="611.7" y1="639.3" x2="611.7" y2="647.3" stroke="#000" stroke-width="1.6"/>
<rect x="600.8000000000001" y="625.2" width="21.8" height="14.099999999999909" fill="#bdbdbd" stroke="#000" stroke-width="1.6"/>
<line x1="600.8000000000001" y1="632.2" x2="622.6" y2="632.2" stroke="#000" stroke-width="1.6"/>
<rect x="608.85" y="629.75" width="5.5" height="5.5" fill="#000" stroke="#000" stroke-width="0.5"/>
<line x1="420.1" y1="733.4" x2="420.1" y2="889.5" stroke="#000" stroke-width="1.6"/>
<line x1="409.3" y1="747.1" x2="420.1" y2="747.1" stroke="#000" stroke-width="1.6"/>
<text x="403.6" y="751.8000000000001" font-size="12.4" fill="#000" stroke="#000" text-anchor="end">20</text>
<line x1="409.3" y1="818.3" x2="420.1" y2="818.3" stroke="#000" stroke-width="1.6"/>
<text x="403.6" y="823.0" font-size="12.4" fill="#000" stroke="#000" text-anchor="end">10</text>
<line x1="409.3" y1="889.5" x2="420.1" y2="889.5" stroke="#000" stroke-width="1.6"/>
<text x="403.6" y="894.2" font-size="12.4" fill="#000" stroke="#000" text-anchor="end">0</text>
<text x="387.8" y="811" font-size="11.5" fill="#000" stroke="#000" text-anchor="middle" textLength="144" lengthAdjust="spacingAndGlyphs" transform="rotate(-90 387.8 811)">Swimming velocity (mm/s)</text>
<line x1="432.6" y1="889.5" x2="523.1" y2="889.5" stroke="#000" stroke-width="1.6"/>
<line x1="543.7" y1="889.5" x2="633.6" y2="889.5" stroke="#000" stroke-width="1.6"/>
<line x1="455.6" y1="889.5" x2="455.6" y2="899.5" stroke="#000" stroke-width="1.6"/>
<line x1="500.7" y1="889.5" x2="500.7" y2="899.5" stroke="#000" stroke-width="1.6"/>
<line x1="565.8" y1="889.5" x2="565.8" y2="899.5" stroke="#000" stroke-width="1.6"/>
<line x1="611.1" y1="889.5" x2="611.1" y2="899.5" stroke="#000" stroke-width="1.6"/>
<text x="455.6" y="917.1" font-size="12.2" fill="#000" stroke="#000" text-anchor="middle" textLength="34.5" lengthAdjust="spacingAndGlyphs">before</text>
<text x="500.7" y="917.1" font-size="12.2" fill="#000" stroke="#000" text-anchor="middle" textLength="24.5" lengthAdjust="spacingAndGlyphs">after</text>
<text x="565.8" y="917.1" font-size="12.2" fill="#000" stroke="#000" text-anchor="middle" textLength="34.5" lengthAdjust="spacingAndGlyphs">before</text>
<text x="611.1" y="917.1" font-size="12.2" fill="#000" stroke="#000" text-anchor="middle" textLength="24.5" lengthAdjust="spacingAndGlyphs">after</text>
<line x1="455.6" y1="772.5" x2="500.7" y2="782.6" stroke="#000" stroke-width="1.6"/>
<line x1="455.6" y1="809.7" x2="500.7" y2="754.4" stroke="#000" stroke-width="1.6"/>
<line x1="455.6" y1="812.6" x2="500.7" y2="811.6" stroke="#000" stroke-width="1.6"/>
<line x1="455.6" y1="812.6" x2="500.7" y2="836.4" stroke="#000" stroke-width="1.6"/>
<line x1="455.6" y1="828.8" x2="500.7" y2="815.4" stroke="#000" stroke-width="1.6"/>
<line x1="455.6" y1="860.3" x2="500.7" y2="872.1" stroke="#000" stroke-width="1.6"/>
<rect x="452.90000000000003" y="769.8" width="5.4" height="5.4" fill="#fff" stroke="#999" stroke-width="1.0"/>
<rect x="452.90000000000003" y="807.0" width="5.4" height="5.4" fill="#fff" stroke="#999" stroke-width="1.0"/>
<rect x="452.90000000000003" y="809.9" width="5.4" height="5.4" fill="#fff" stroke="#999" stroke-width="1.0"/>
<rect x="452.90000000000003" y="812.6999999999999" width="5.4" height="5.4" fill="#fff" stroke="#999" stroke-width="1.0"/>
<rect x="452.90000000000003" y="826.0999999999999" width="5.4" height="5.4" fill="#fff" stroke="#999" stroke-width="1.0"/>
<rect x="452.90000000000003" y="857.5999999999999" width="5.4" height="5.4" fill="#fff" stroke="#999" stroke-width="1.0"/>
<rect x="497.9" y="779.8000000000001" width="5.6" height="5.6" fill="#000" stroke="#000" stroke-width="0.5"/>
<rect x="497.9" y="751.6" width="5.6" height="5.6" fill="#000" stroke="#000" stroke-width="0.5"/>
<rect x="497.9" y="808.8000000000001" width="5.6" height="5.6" fill="#000" stroke="#000" stroke-width="0.5"/>
<rect x="497.9" y="833.6" width="5.6" height="5.6" fill="#000" stroke="#000" stroke-width="0.5"/>
<rect x="497.9" y="812.6" width="5.6" height="5.6" fill="#000" stroke="#000" stroke-width="0.5"/>
<rect x="497.9" y="869.3000000000001" width="5.6" height="5.6" fill="#000" stroke="#000" stroke-width="0.5"/>
<line x1="565.9" y1="772.7" x2="565.9" y2="810.5" stroke="#000" stroke-width="1.6"/>
<line x1="565.9" y1="828" x2="565.9" y2="859.8" stroke="#000" stroke-width="1.6"/>
<rect x="555.0" y="810.5" width="21.8" height="17.5" fill="#fff" stroke="#000" stroke-width="1.6"/>
<line x1="555.0" y1="813" x2="576.8" y2="813" stroke="#000" stroke-width="1.6"/>
<rect x="563.3" y="814.1" width="5.0" height="5.0" fill="#fff" stroke="#aaa" stroke-width="1.0"/>
<line x1="611.7" y1="754.8" x2="611.7" y2="783.4" stroke="#000" stroke-width="1.6"/>
<line x1="611.7" y1="835.7" x2="611.7" y2="871.3" stroke="#000" stroke-width="1.6"/>
<rect x="600.8000000000001" y="783.4" width="21.8" height="52.30000000000007" fill="#c8c8c8" stroke="#000" stroke-width="1.6"/>
<line x1="600.8000000000001" y1="813.2" x2="622.6" y2="813.2" stroke="#000" stroke-width="1.6"/>
<rect x="608.85" y="808.75" width="5.5" height="5.5" fill="#000" stroke="#000" stroke-width="0.5"/>
</svg></body></html>
